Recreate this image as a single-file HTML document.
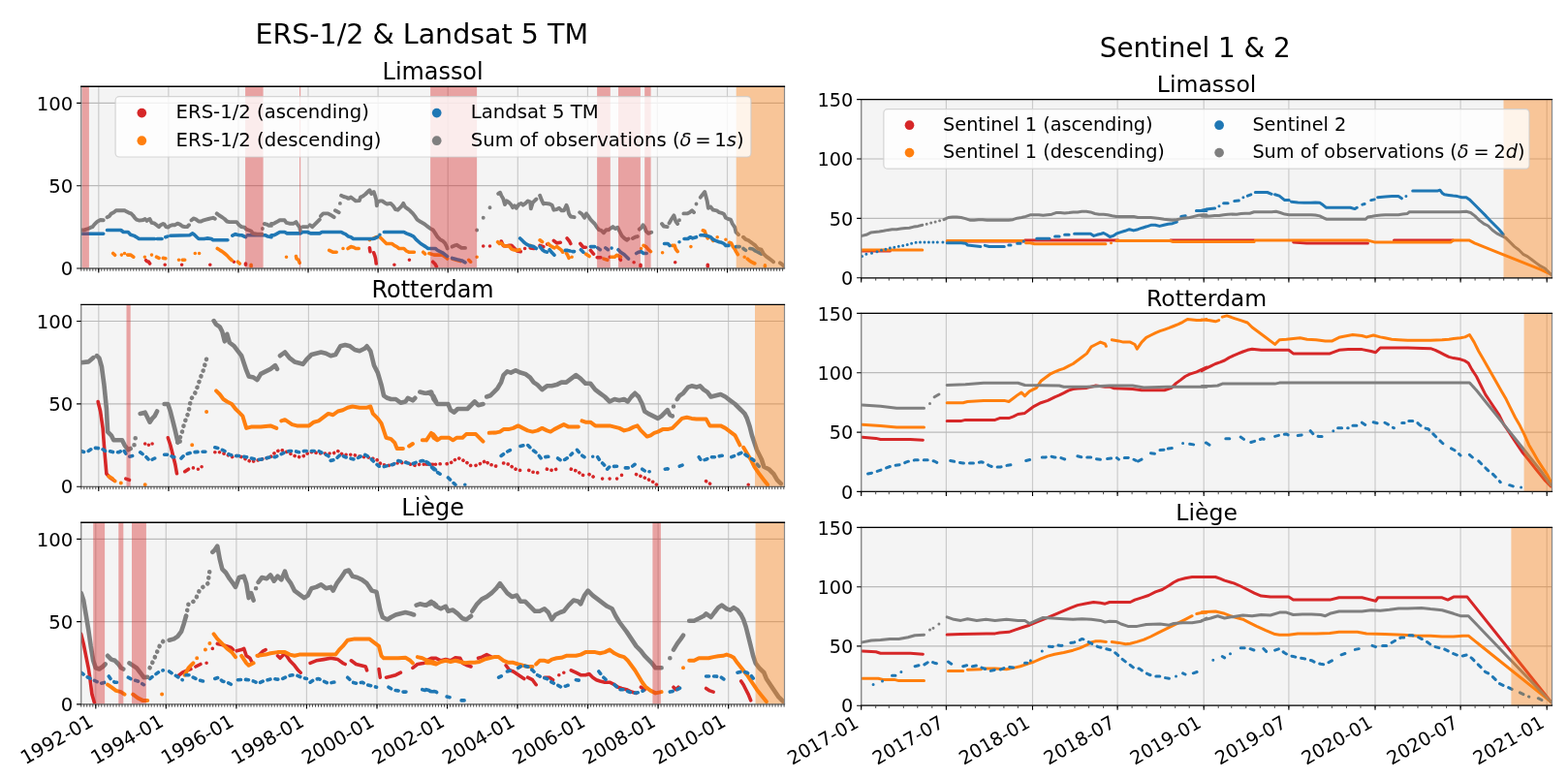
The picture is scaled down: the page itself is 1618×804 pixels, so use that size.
<!DOCTYPE html><html><head><meta charset="utf-8"><style>html,body{margin:0;padding:0;background:#fff;overflow:hidden;width:1618px;height:804px;}svg{display:block;}text{font-family:'DejaVu Sans', 'Liberation Sans', sans-serif;fill:#000;}</style></head><body>
<svg width="1618" height="804" viewBox="0 0 1618 804">
<rect width="1618" height="804" fill="#fff"/>
<text x="435.2" y="45.4" font-size="28.5" text-anchor="middle">ERS-1/2 &amp; Landsat 5 TM</text>
<text x="1233.3" y="59.4" font-size="27.8" text-anchor="middle">Sentinel 1 &amp; 2</text>
<clipPath id="clipL1"><rect x="83.7" y="89.3" width="725.8" height="187.7"/></clipPath>
<rect x="83.7" y="89.3" width="725.8" height="187.7" fill="#f4f4f4"/>
<path d="M101.8 89.3V277M173.9 89.3V277M246 89.3V277M318 89.3V277M390.1 89.3V277M462.2 89.3V277M534.3 89.3V277M606.4 89.3V277M678.4 89.3V277M750.5 89.3V277" stroke="#cbcbcb" stroke-width="1.2" fill="none"/>
<path d="M83.7 277H809.5M83.7 191.7H809.5M83.7 106.4H809.5" stroke="#bababa" stroke-width="1.2" fill="none"/>
<g clip-path="url(#clipL1)">
<path d="M150.6 268.6L151.5 269.6M153.4 270.2L154.6 272.0M170.2 273.3h0.01M187.6 273.3h0.01M216.8 273.3h0.01M241.4 270.2h0.01M253.5 272.0L253.5 273.3M381.4 255.9L382.0 259.6M385.7 260.8L387.0 264.6L387.6 267.1L388.2 272.0M406.9 273.3h0.01M422.4 268.3h0.01M446.7 270.2L449.2 272.7L450.4 275.1M498.7 254.0h0.01M505.5 254.0h0.01M517.3 249.0L519.2 253.4L521.7 254.0L524.8 253.4L527.9 253.4L529.8 255.2L533.5 259.0L537.2 259.6M541.6 256.5h0.01M547.2 255.9L550.9 256.5M557.1 253.4L560.8 254.6M564.6 252.1h0.01M571.4 248.4L574.5 250.9L578.3 250.3M585.1 245.9L587.6 249.0L588.8 251.5M598.8 251.5L601.9 255.2L604.4 255.2M609.4 258.4L612.5 262.1M616.2 265.8L619.9 265.8M629.3 265.2h0.01M639.8 267.1L640.4 268.3M654.1 270.8h0.01M661.0 273.3L661.0 275.1M696.7 270.8h0.01M730.3 273.3L730.3 275.1" stroke="#d62728" stroke-width="3.6" stroke-linecap="round" stroke-linejoin="round" fill="none"/>
<path d="M116.7 261.5L118.6 263.3M125.4 263.1h0.01M128.5 261.5h0.01M131.6 263.1L134.7 263.1L137.8 265.2M149.4 265.2h0.01M156.5 263.1h0.01M161.5 265.2L164.0 266.4M168.3 266.4L170.8 266.8M184.5 268.3h0.01M188.2 268.3L190.7 268.3M201.3 261.5h0.01M205.6 261.5h0.01M224.3 256.5L226.8 258.1L229.3 259.6L231.7 261.5L234.2 263.6L236.7 266.4L239.2 268.6M245.4 270.2L247.3 272.0M259.1 273.3L259.1 275.1M295.5 265.2h0.01M305.5 264.6L306.1 267.1L308.0 268.3L309.2 271.4M339.7 258.4L343.4 260.2L347.2 260.2M354.0 256.5h0.01M359.0 256.5L362.1 254.6L364.6 255.2L367.1 256.5L370.2 256.5M381.4 247.8h0.01M385.7 245.9L388.2 244.7L391.3 244.1L393.8 246.5L396.3 249.0L398.8 251.5L401.9 251.5L404.4 251.5L406.9 253.4L409.4 254.6L411.8 256.5L414.3 256.5L416.8 256.5L419.3 259.0L421.8 260.2L427.4 260.2M436.7 260.2L438.6 262.1M442.9 261.5L447.9 263.1L451.6 263.1L456.6 263.3L460.3 265.8L461.6 267.1M466.6 267.1L471.5 268.6L475.3 269.6M483.7 268.3L485.6 270.2M492.1 265.2h0.01M513.6 249.7L515.4 251.5L517.3 250.9L520.4 254.0L522.9 254.0L525.4 254.0L527.9 257.1L529.8 257.7L532.9 258.4L536.0 257.7M547.2 253.4L548.4 254.0M557.1 247.8L559.6 249.7M565.8 251.5L567.7 253.4L569.6 254.6L572.0 255.9M574.5 254.6L576.4 255.9L579.5 258.4L580.7 260.2M584.5 261.5L585.7 263.3L587.0 266.4M590.1 265.2h0.01M604.4 262.1L608.1 264.6M623.0 267.1L626.8 268.3M630.5 265.2L634.2 265.2L636.7 263.3L640.4 265.2M661.6 256.5h0.01M664.1 253.4L666.6 254.6L669.1 257.7L671.5 259.6M683.6 260.8h0.01M693.6 253.4L696.1 253.4L697.3 257.1L699.2 259.6M712.9 254.6h0.01M725.3 237.8L727.2 238.5L728.4 242.2L730.3 245.9M734.6 246.5L735.9 248.4M740.2 244.7h0.01M748.9 247.2h0.01M752.7 250.3L754.5 250.9L756.4 254.6L758.3 257.1L759.5 259.6L761.4 262.7M768.2 265.2h0.01M771.3 267.1L772.6 268.3L775.0 270.2L778.8 272.0M789.4 273.9L789.4 275.1" stroke="#ff7f0e" stroke-width="3.6" stroke-linecap="round" stroke-linejoin="round" fill="none"/>
<path d="M84.4 241.2L94.9 241.2L106.7 241.2M110.5 237.5L124.8 237.5L127.3 239.5L132.2 239.5L134.7 242.2L138.5 243.4L141.6 245.3L143.4 246.5L159.6 246.5M162.1 246.5L167.1 246.5M170.8 244.7L172.7 244.1M175.8 243.2L195.7 242.8L198.8 240.9L200.6 242.2L203.1 244.7L205.0 246.5L210.6 246.5L213.7 245.9L218.1 246.5L219.9 247.8L234.9 247.8M239.8 243.2L242.9 241.6L244.8 242.2L247.3 242.8L249.8 242.8L252.3 244.1L253.5 244.7M255.4 242.8L274.0 242.8L276.5 244.1L280.0 244.7M280.0 242.8L282.5 242.8L285.0 241.6L288.7 239.5L293.7 239.5L296.2 240.9L309.9 240.9L312.3 239.5L317.3 239.5L320.4 240.9L329.8 240.9L332.2 239.5L352.1 239.5L354.6 240.9L356.5 241.6L359.6 244.1L362.1 244.7L364.6 246.5L384.5 246.5L387.0 245.9L389.5 244.7M391.9 242.2h0.01M396.3 239.5L416.8 239.5L419.3 240.9L424.3 242.8L426.8 244.1L429.3 247.2L434.2 251.5L439.2 254.6L441.7 256.5L449.2 256.5L451.6 258.4L456.6 260.8L461.6 264.6M466.6 266.4L471.5 267.7L476.5 268.9L480.0 270.8M536.6 245.9L538.5 247.8L540.9 250.3L543.4 252.1L545.9 253.4L548.4 254.0L550.9 254.6L553.4 256.5M557.1 254.6L559.6 257.7L562.1 259.6L564.6 260.2M567.1 257.7L569.6 260.8L572.0 263.3M583.2 258.4L585.7 258.4L588.2 259.0M590.7 259.6L592.6 259.6M599.4 257.7L601.9 260.2M609.4 254.6L613.7 254.6M616.8 255.9L619.3 257.7M624.9 255.9L627.4 257.7M631.1 256.1h0.01M638.0 257.7L640.4 260.2L644.2 262.7L646.7 265.2L648.5 267.1M656.6 261.5L659.1 260.2L661.6 259.6L664.1 261.5L667.2 261.5M685.5 251.5L689.2 251.5L691.1 253.4M701.0 249.7h0.01M706.0 246.5L709.8 246.5L712.2 244.7L714.7 245.9L718.5 244.7M722.8 242.8L725.3 242.8L729.7 243.4L733.4 244.7L735.9 247.2L738.4 248.4L742.1 249.7L744.6 250.3L747.1 251.5L748.9 253.4L752.0 253.4M759.5 254.6L763.2 254.6M767.0 256.5L769.5 258.4M773.8 256.5L776.9 257.1L779.4 259.0L781.9 260.2L785.6 262.1" stroke="#1f77b4" stroke-width="3.6" stroke-linecap="round" stroke-linejoin="round" fill="none"/>
<path d="M84.4 237.5L87.5 237.2L91.2 236.0L93.7 234.7L95.5 234.1L97.4 231.6L99.9 229.1L101.8 227.9L103.6 227.0L106.7 227.3M110.5 224.2L113.0 222.9L114.8 220.4L117.3 219.2L119.8 217.3L122.9 217.1L126.0 217.3L128.5 217.1L130.4 218.3L132.9 219.6L135.3 220.4L137.2 222.3L139.1 224.8L140.9 226.6L143.4 227.5L145.9 227.3L147.8 227.0L149.7 226.0L151.5 227.9L153.4 226.6L154.6 226.0L156.5 229.8L159.0 230.4L161.5 232.2L164.0 234.1L165.8 232.2L168.3 231.0L169.6 231.6L171.4 234.1L173.3 234.5L175.8 232.9L178.3 232.2L180.7 232.2L183.2 230.7L185.7 231.6L188.2 233.5L190.7 234.1L193.2 234.1L195.0 232.2M197.5 227.3L200.0 225.4L202.5 226.6L205.0 228.5L207.5 228.5L210.0 227.3L212.5 226.6L215.0 226.0L217.4 225.4L219.9 224.8L221.8 225.8M223.7 220.4L226.1 222.3L229.3 224.2L231.7 226.0L234.2 228.5L236.7 229.1L240.4 229.1L244.2 229.1L246.7 232.2L249.2 234.1L252.3 234.7L254.1 236.6L256.6 237.5L259.1 238.5L261.0 240.9L265.3 241.6L270.3 241.6M270.9 236.0h0.01M272.8 231.0L275.3 231.6L277.8 232.9L280.0 232.9M280.0 231.0L282.5 230.7L285.6 229.1L288.7 227.3L293.7 227.3L295.5 229.8L298.7 230.7L303.0 230.7L305.5 229.1L307.4 232.2L309.2 234.7L309.9 237.8M312.3 234.1L317.3 234.1M319.8 232.2L322.3 234.1L324.8 231.6L327.3 229.1L329.8 226.6M331.0 222.9L333.5 220.4L338.5 220.4L340.9 221.7L342.8 222.9L344.7 224.2M345.9 217.3L348.4 218.6L349.7 219.2M350.9 209.9h0.01M352.1 201.8L354.6 203.0L357.1 203.6L359.6 204.9L362.1 203.6L364.6 205.5L367.1 207.4L370.8 207.1L372.0 203.6L374.5 202.4L377.0 200.5L379.5 198.0L381.4 196.2L383.2 199.9L385.7 198.0L387.0 201.8L388.2 206.1L388.8 212.3L389.5 208.6L391.9 207.4L394.4 207.4L396.9 209.2L399.4 210.5L403.1 209.9L405.6 212.3L408.1 216.1L410.6 216.7L413.1 214.2L414.3 213.0L416.2 209.9L418.1 213.6L420.5 215.4L423.0 217.3L425.5 219.8L428.0 222.9L430.5 226.6L434.2 229.1L436.7 230.4L439.2 232.2L441.7 234.1L444.2 236.0L446.7 237.2L449.2 240.9L451.6 244.7L454.1 247.2L456.6 248.4L459.1 250.9L461.0 254.6L461.6 256.5M466.6 254.6L469.1 253.4L471.5 252.8L474.0 254.6L476.5 255.9L480.0 255.9M492.1 237.5h0.01M498.7 224.8h0.01M505.5 214.2h0.01M514.2 199.9L516.1 198.7L517.3 201.8L519.2 204.9L521.0 211.1L522.9 207.4L525.4 209.2L527.3 211.1L529.1 214.2L531.0 212.3L532.9 214.8L535.3 211.1L537.8 209.9L539.7 211.7L542.2 209.9L544.7 207.4L547.2 208.6L547.8 215.4L549.7 209.2L551.5 207.4L553.4 205.5M557.1 201.8L559.0 206.7L560.8 210.5L562.7 209.9L567.1 210.5L569.6 211.7L571.4 216.7L574.5 216.1L577.0 214.8L579.5 217.3L582.0 217.3L584.5 211.7L585.7 214.8L587.0 220.4L588.8 223.5L592.6 224.2M598.2 219.2L600.6 221.0L603.1 224.8L605.0 220.4L606.9 222.9L609.4 226.6L611.8 229.1L613.7 231.0L615.6 234.1L618.1 237.2L620.5 237.8L623.0 240.3L625.5 237.2L628.0 237.2L630.5 235.3L632.4 234.1L634.9 236.0L637.3 234.7L639.2 238.5L641.7 243.4L644.2 245.9L646.7 247.8L648.5 246.5M652.9 245.9L655.4 244.7L657.9 244.1M659.7 236.6L662.2 234.7L663.5 232.2L665.3 234.7L666.6 238.5L669.1 240.9L672.2 239.7M683.0 231.0L684.9 233.5L688.6 234.1M690.5 230.4L693.0 226.0L695.4 222.3L697.3 228.5L699.2 231.0M701.0 227.3h0.01M705.4 220.4L709.1 220.4L711.6 219.2L714.1 217.3L716.0 219.2M718.5 210.5h0.01M722.8 203.6L724.7 201.1L727.2 198.0L728.4 202.4L729.7 207.4L730.9 214.8L733.4 213.6L735.9 216.7L739.6 217.3L742.1 219.2L744.6 219.8L747.1 221.0L748.9 224.8L751.4 226.0L753.9 226.6L755.8 231.0L758.3 234.7L759.5 239.7L762.0 242.2M767.0 244.7L769.5 247.2L771.9 247.8L774.4 249.7L776.9 251.5L779.4 253.4L781.9 256.5L785.6 257.7L788.1 262.1L790.6 264.6L793.1 266.4L795.6 268.3L798.1 270.2M804.9 271.4L806.8 272.7L809.3 275.1" stroke="#7f7f7f" stroke-width="3.9" stroke-linecap="round" stroke-linejoin="round" fill="none"/>
</g>
<rect x="84.6" y="89.3" width="7.3" height="187.7" fill="#d62728" fill-opacity="0.4"/>
<rect x="253.1" y="89.3" width="18.5" height="187.7" fill="#d62728" fill-opacity="0.4"/>
<rect x="309" y="89.3" width="1.2" height="187.7" fill="#d62728" fill-opacity="0.4"/>
<rect x="444.1" y="89.3" width="48" height="187.7" fill="#d62728" fill-opacity="0.4"/>
<rect x="616.1" y="89.3" width="13.7" height="187.7" fill="#d62728" fill-opacity="0.4"/>
<rect x="638" y="89.3" width="22.9" height="187.7" fill="#d62728" fill-opacity="0.4"/>
<rect x="665.2" y="89.3" width="6.4" height="187.7" fill="#d62728" fill-opacity="0.4"/>
<rect x="759.7" y="89.3" width="49.8" height="187.7" fill="#ff7f0e" fill-opacity="0.4"/>
<path d="M83.7 89.3V277" stroke="#8a8a8a" stroke-width="1.4" fill="none"/>
<path d="M809.5 89.3V277" stroke="#8a8a8a" stroke-width="1.2" fill="none"/>
<path d="M83.1 277H810.1" stroke="#6a6a6a" stroke-width="1.3" fill="none"/>
<path d="M83.1 89.3H810.1" stroke="#000" stroke-width="1.4" fill="none"/>
<path d="M83.8 277v2.8M86.8 277v2.8M89.8 277v2.8M92.8 277v2.8M95.8 277v2.8M98.8 277v2.8M101.8 277v2.8M104.8 277v2.8M107.8 277v2.8M110.8 277v2.8M113.8 277v2.8M116.8 277v2.8M119.8 277v2.8M122.8 277v2.8M125.8 277v2.8M128.8 277v2.8M131.8 277v2.8M134.8 277v2.8M137.8 277v2.8M140.8 277v2.8M143.8 277v2.8M146.8 277v2.8M149.9 277v2.8M152.9 277v2.8M155.9 277v2.8M158.9 277v2.8M161.9 277v2.8M164.9 277v2.8M167.9 277v2.8M170.9 277v2.8M173.9 277v2.8M176.9 277v2.8M179.9 277v2.8M182.9 277v2.8M185.9 277v2.8M188.9 277v2.8M191.9 277v2.8M194.9 277v2.8M197.9 277v2.8M200.9 277v2.8M203.9 277v2.8M206.9 277v2.8M209.9 277v2.8M212.9 277v2.8M215.9 277v2.8M218.9 277v2.8M221.9 277v2.8M224.9 277v2.8M227.9 277v2.8M230.9 277v2.8M233.9 277v2.8M236.9 277v2.8M240 277v2.8M243 277v2.8M246 277v2.8M249 277v2.8M252 277v2.8M255 277v2.8M258 277v2.8M261 277v2.8M264 277v2.8M267 277v2.8M270 277v2.8M273 277v2.8M276 277v2.8M279 277v2.8M282 277v2.8M285 277v2.8M288 277v2.8M291 277v2.8M294 277v2.8M297 277v2.8M300 277v2.8M303 277v2.8M306 277v2.8M309 277v2.8M312 277v2.8M315 277v2.8M318 277v2.8M321 277v2.8M324 277v2.8M327.1 277v2.8M330.1 277v2.8M333.1 277v2.8M336.1 277v2.8M339.1 277v2.8M342.1 277v2.8M345.1 277v2.8M348.1 277v2.8M351.1 277v2.8M354.1 277v2.8M357.1 277v2.8M360.1 277v2.8M363.1 277v2.8M366.1 277v2.8M369.1 277v2.8M372.1 277v2.8M375.1 277v2.8M378.1 277v2.8M381.1 277v2.8M384.1 277v2.8M387.1 277v2.8M390.1 277v2.8M393.1 277v2.8M396.1 277v2.8M399.1 277v2.8M402.1 277v2.8M405.1 277v2.8M408.1 277v2.8M411.1 277v2.8M414.1 277v2.8M417.1 277v2.8M420.2 277v2.8M423.2 277v2.8M426.2 277v2.8M429.2 277v2.8M432.2 277v2.8M435.2 277v2.8M438.2 277v2.8M441.2 277v2.8M444.2 277v2.8M447.2 277v2.8M450.2 277v2.8M453.2 277v2.8M456.2 277v2.8M459.2 277v2.8M462.2 277v2.8M465.2 277v2.8M468.2 277v2.8M471.2 277v2.8M474.2 277v2.8M477.2 277v2.8M480.2 277v2.8M483.2 277v2.8M486.2 277v2.8M489.2 277v2.8M492.2 277v2.8M495.2 277v2.8M498.2 277v2.8M501.2 277v2.8M504.2 277v2.8M507.2 277v2.8M510.3 277v2.8M513.3 277v2.8M516.3 277v2.8M519.3 277v2.8M522.3 277v2.8M525.3 277v2.8M528.3 277v2.8M531.3 277v2.8M534.3 277v2.8M537.3 277v2.8M540.3 277v2.8M543.3 277v2.8M546.3 277v2.8M549.3 277v2.8M552.3 277v2.8M555.3 277v2.8M558.3 277v2.8M561.3 277v2.8M564.3 277v2.8M567.3 277v2.8M570.3 277v2.8M573.3 277v2.8M576.3 277v2.8M579.3 277v2.8M582.3 277v2.8M585.3 277v2.8M588.3 277v2.8M591.3 277v2.8M594.3 277v2.8M597.4 277v2.8M600.4 277v2.8M603.4 277v2.8M606.4 277v2.8M609.4 277v2.8M612.4 277v2.8M615.4 277v2.8M618.4 277v2.8M621.4 277v2.8M624.4 277v2.8M627.4 277v2.8M630.4 277v2.8M633.4 277v2.8M636.4 277v2.8M639.4 277v2.8M642.4 277v2.8M645.4 277v2.8M648.4 277v2.8M651.4 277v2.8M654.4 277v2.8M657.4 277v2.8M660.4 277v2.8M663.4 277v2.8M666.4 277v2.8M669.4 277v2.8M672.4 277v2.8M675.4 277v2.8M678.4 277v2.8M681.4 277v2.8M684.4 277v2.8M687.4 277v2.8M690.5 277v2.8M693.5 277v2.8M696.5 277v2.8M699.5 277v2.8M702.5 277v2.8M705.5 277v2.8M708.5 277v2.8M711.5 277v2.8M714.5 277v2.8M717.5 277v2.8M720.5 277v2.8M723.5 277v2.8M726.5 277v2.8M729.5 277v2.8M732.5 277v2.8M735.5 277v2.8M738.5 277v2.8M741.5 277v2.8M744.5 277v2.8M747.5 277v2.8M750.5 277v2.8M753.5 277v2.8M756.5 277v2.8M759.5 277v2.8M762.5 277v2.8M765.5 277v2.8M768.5 277v2.8M771.5 277v2.8M774.5 277v2.8M777.5 277v2.8M780.6 277v2.8M783.6 277v2.8M786.6 277v2.8M789.6 277v2.8M792.6 277v2.8M795.6 277v2.8M798.6 277v2.8M801.6 277v2.8M804.6 277v2.8M807.6 277v2.8" stroke="#333" stroke-width="0.9" fill="none"/>
<path d="M101.8 277v4.6M173.9 277v4.6M246 277v4.6M318 277v4.6M390.1 277v4.6M462.2 277v4.6M534.3 277v4.6M606.4 277v4.6M678.4 277v4.6M750.5 277v4.6M83.7 277h-4.6M83.7 191.7h-4.6M83.7 106.4h-4.6" stroke="#000" stroke-width="1.1" fill="none"/>
<text x="75.3" y="284.1" font-size="19.7" text-anchor="end">0</text>
<text x="75.3" y="198.8" font-size="19.7" text-anchor="end">50</text>
<text x="75.3" y="113.5" font-size="19.7" text-anchor="end">100</text>
<text x="446.6" y="81.6" font-size="23.9" text-anchor="middle">Limassol</text>
<clipPath id="clipL2"><rect x="83.7" y="314.4" width="725.8" height="187.9"/></clipPath>
<rect x="83.7" y="314.4" width="725.8" height="187.9" fill="#f4f4f4"/>
<path d="M101.8 314.4V502.3M174 314.4V502.3M246.2 314.4V502.3M318.4 314.4V502.3M390.6 314.4V502.3M462.8 314.4V502.3M535 314.4V502.3M607.2 314.4V502.3M679.4 314.4V502.3M751.6 314.4V502.3" stroke="#cbcbcb" stroke-width="1.2" fill="none"/>
<path d="M83.7 502.3H809.5M83.7 416.9H809.5M83.7 331.5H809.5" stroke="#bababa" stroke-width="1.2" fill="none"/>
<g clip-path="url(#clipL2)">
<path d="M101.1 414.5L103.6 424.5L106.1 441.9L107.4 459.3L108.6 474.2L109.9 489.1L113.6 492.9L117.3 495.4M129.8 494.1L133.5 495.4M149.7 458.0h0.01M153.4 459.3h0.01M157.1 458.0h0.01M173.3 451.8L175.8 459.3L178.3 469.2L180.8 479.2L182.5 488.7M190.7 486.7L194.5 484.2M199.4 482.9h0.01M204.4 484.2h0.01M208.1 481.7h0.01" stroke="#d62728" stroke-width="3.6" stroke-linecap="round" stroke-linejoin="round" fill="none"/>
<path d="M221.8 466.8L226.8 466.8L234.3 469.2L239.2 471.7L244.2 470.5L249.2 471.7L254.2 474.2L259.1 476.7L264.1 475.5L269.1 474.2L274.1 473.0L279.1 471.7L284.0 466.8L289.0 464.3L294.0 465.5L299.0 468.0L303.9 470.5L308.9 471.7L313.9 470.5L318.9 466.8L323.8 466.8L328.8 468.0L333.8 468.0L338.8 468.0L343.7 468.0L348.7 465.5L353.7 469.2L358.7 469.2L363.7 469.2L368.6 470.5L373.6 471.7L378.6 471.7L383.6 473.0L388.5 474.2L393.5 479.2L398.5 480.4L403.5 480.4L408.4 478.0L413.4 478.0L418.4 476.7L423.4 479.2L428.3 480.4L433.3 479.2L438.3 479.2L443.3 479.2L450.0 479.2M440.0 479.2L445.0 479.2L450.0 479.2L454.9 478.7M461.1 478.7L466.1 477.2L469.9 474.2L473.6 473.0L477.3 474.7L481.1 477.2L484.8 479.2L487.3 482.9M491.0 480.4L497.2 478.0L501.0 475.5L504.7 479.2L509.7 480.4L513.4 481.7M519.6 478.0L524.6 479.2L528.3 481.7L532.1 484.2L535.8 485.4L539.5 485.4M545.7 485.4L549.5 487.2L554.5 487.9L558.2 487.9M564.4 484.2L569.4 485.4L574.4 484.2L578.1 484.2M589.3 484.2L593.0 485.4L596.8 486.7L599.2 489.6L601.7 490.4M608.0 489.6L611.7 491.6L614.2 494.1M621.6 494.1h0.01M629.1 494.1h0.01M636.6 494.1h0.01M641.5 490.4h0.01M656.5 489.6L661.4 491.6L667.7 494.1L672.6 496.6L676.4 499.1L678.9 501.6M728.6 496.6L732.4 499.1L736.1 501.1M772.2 500.3h0.01" stroke="#d62728" stroke-width="3.6" stroke-linecap="round" stroke-linejoin="round" fill="none" stroke-dasharray="0.1 4.6"/>
<path d="M112.3 491.6L116.1 494.1M118.6 496.6h0.01M124.8 498.6h0.01M149.7 500.3h0.01M198.2 459.3h0.01M213.1 425.0h0.01M223.1 403.3L226.8 407.0L230.5 412.0L234.3 414.5L239.2 417.0L243.0 422.0L246.7 425.7L250.4 429.4L254.2 441.9L259.1 440.6L269.1 440.6L279.1 439.4L285.3 441.9M290.3 434.4L294.0 433.2L297.7 435.7L301.4 438.1L306.4 439.4L313.9 439.4L318.9 439.4L323.8 435.7L328.8 434.4L333.8 430.7L338.8 426.9L343.7 428.2L348.7 424.5L353.7 423.2L358.7 420.7L363.7 419.5L371.1 420.7L378.6 420.7L382.3 419.5L384.8 426.9L389.8 431.9L393.5 436.9L396.0 444.4L398.5 451.8L403.5 453.1L407.2 456.8L409.7 463.0L415.9 463.0M422.1 460.5L425.9 458.0M435.8 454.3L439.5 454.3M447.0 448.1L450.0 451.8M440.0 454.3L445.0 446.8L447.5 451.8L451.2 454.3L454.9 451.8L463.6 451.8L467.4 454.3L471.1 451.8L477.3 451.8L481.1 448.1L491.0 448.1L494.7 451.8L498.5 455.6M504.7 446.8L512.2 446.4L515.9 445.6L519.6 443.1L524.6 443.1L529.6 441.9L534.6 439.4L539.5 441.9L544.5 444.4L549.5 445.6L554.5 444.4L559.4 441.9L564.4 444.4L568.1 445.6L571.9 443.1L576.8 440.6L581.8 438.1L586.8 440.6L594.3 440.6L596.8 440.6M600.5 434.4L604.2 435.7L609.2 435.7L614.2 439.4L619.1 439.4L629.1 439.4L634.1 440.6L639.1 441.9L644.0 444.4L649.0 443.1L654.0 440.6L657.7 439.4L661.4 444.4L665.2 448.1L667.7 450.6L671.4 449.3L675.1 446.8L678.9 445.6L683.8 443.1L688.8 443.1L693.8 441.9L698.8 436.9L703.7 431.9L708.7 430.7L713.7 431.9L718.7 432.4L728.6 432.4L732.4 439.4L738.6 439.4L743.6 439.4L748.5 441.9L753.5 445.6L758.5 449.3L761.0 454.3L763.5 459.3M767.2 461.8L770.9 468.0L774.7 474.2L778.4 481.7L783.4 489.1L788.3 495.4L792.1 500.3" stroke="#ff7f0e" stroke-width="4.0" stroke-linecap="round" stroke-linejoin="round" fill="none"/>
<path d="M83.7 465.5L87.5 466.8L91.2 465.5L94.9 463.0L98.7 462.3L104.9 463.0L108.6 465.5L112.3 465.5L117.3 466.8L122.3 466.8L127.3 464.3L129.8 468.0L133.5 471.2L137.2 470.5L141.0 469.2M144.7 466.8L149.7 470.5L154.6 475.5L159.6 473.0L163.4 473.0M169.6 469.2L174.6 469.2L178.3 471.7L182.0 471.7M187.0 473.0L190.7 469.2L194.5 468.0L199.4 466.8L204.4 466.3L209.4 466.3L211.9 466.3M221.8 461.8L226.8 463.0L231.8 465.5L236.8 469.2L241.7 470.5L246.7 470.5L254.2 471.7L259.1 473.0L264.1 474.2L269.1 474.2L274.1 473.0L279.1 471.7L284.0 471.7L289.0 469.2L294.0 466.8L299.0 465.5L303.9 465.5L308.9 466.8L313.9 465.5L318.9 465.5L323.8 465.5L328.8 465.5L333.8 468.0L338.8 470.5L341.3 475.5L346.2 474.2L351.2 469.2L356.2 471.7L361.2 473.0L366.1 474.2L371.1 471.7L376.1 469.2L381.1 471.7L386.0 476.7L391.0 481.2L396.0 481.7L401.0 480.4L406.0 479.2L410.9 475.5L415.9 476.7L420.9 478.0L425.9 478.7L430.8 476.7L435.8 475.5L440.8 476.7L445.8 481.7L450.0 485.4M440.0 476.7L445.0 481.7L450.0 486.7L456.2 490.4M462.4 492.9L467.4 497.9L469.9 500.3M479.8 500.3h0.01M517.1 470.5L522.1 466.8L527.1 464.3M537.0 460.5L542.0 459.3L544.5 459.3L549.5 464.3L554.5 468.0L558.2 473.0L561.9 471.7L566.9 471.2L570.6 471.7M575.6 473.0L579.3 475.5L583.1 474.2L586.8 471.7L590.5 468.0M595.5 464.3L599.2 469.2L603.0 471.7M611.7 471.2h0.01M616.7 471.7L619.1 475.5L622.9 479.2L626.6 484.2L629.1 481.7L636.6 481.2M645.3 482.9L650.3 482.9L655.2 479.2L659.0 480.4M662.7 484.2L666.4 486.7L670.2 486.7M686.3 484.2L688.8 483.7L692.6 486.7M701.3 481.2L706.2 479.2M721.2 471.7L723.7 475.5L728.6 474.2L733.6 471.7L738.6 471.7L743.6 470.5L748.5 469.7M754.8 471.7L761.0 469.2L766.0 466.8L770.9 470.5L774.7 473.0L778.4 475.5L783.4 481.7" stroke="#1f77b4" stroke-width="3.6" stroke-linecap="round" stroke-linejoin="round" fill="none" stroke-dasharray="3 5"/>
<path d="M83.7 374.2L91.2 373.4L96.2 369.2M99.9 367.2L102.4 369.7L104.9 378.4L107.4 397.1L109.9 422.0L111.1 445.6L114.8 449.3L117.3 454.3L121.1 454.3L126.0 454.3L128.5 459.3L132.3 464.3L134.7 463.0M138.5 459.3h0.01M139.7 452.3h0.01M144.7 426.9L149.7 425.7L154.6 435.7L157.1 431.9L159.6 429.4L162.1 424.5M169.6 417.0L173.3 417.0L175.8 424.5L178.3 434.4L180.8 444.4L183.3 455.6L185.7 455.6M220.6 331.1L223.1 334.9L226.8 337.4L229.3 342.3L231.8 352.3L234.3 344.8L236.8 353.5L241.7 357.3L245.5 362.3L249.2 367.2L251.7 374.7L254.2 382.2L256.7 388.4L261.6 389.6L265.4 392.1L269.1 385.9L274.1 383.4L279.1 380.9L284.0 377.2L286.0 380.9M289.0 367.2L294.0 363.5L299.0 369.7L303.9 373.4L308.9 374.7L312.6 375.9L316.4 371.0L321.4 366.0L326.3 364.7L331.3 363.5L336.3 364.7L341.3 367.2L346.2 366.0L351.2 357.3L356.2 356.0L361.2 357.3L366.1 361.0L371.1 362.3L376.1 359.8L378.6 357.3L382.3 362.3L386.0 377.2L389.8 384.6L393.5 397.1L396.0 408.3L399.7 410.8L403.5 412.0L408.4 412.0L413.4 415.7L418.4 414.5L420.9 410.8L425.9 413.3L428.3 410.8M433.3 404.6L438.3 405.8L443.3 405.8L447.0 408.3L450.0 414.5M440.0 405.8L445.0 404.6L447.5 412.0L451.2 417.0L462.4 417.0L464.9 423.2L468.6 425.7L472.3 422.0L482.3 422.0L484.8 419.5L489.8 414.5L493.5 418.2L498.5 417.0M502.2 409.5L505.9 408.3L509.7 404.6L513.4 400.8L517.1 394.6L519.6 387.1L523.4 383.4L527.1 384.6L532.1 382.2L537.0 384.6L542.0 385.9L547.0 389.6L550.7 394.6L554.5 397.1L559.4 402.1L564.4 398.3L569.4 398.3L574.4 397.1L579.3 394.6L584.3 394.6L589.3 390.9L594.3 387.1L599.2 390.9L604.2 395.8L609.2 395.8L614.2 402.1L619.1 405.8L624.1 409.5L629.1 414.5L634.1 412.0L639.1 413.3L644.0 412.0L647.8 414.5L651.5 409.5L655.2 405.8L659.0 409.5L662.7 417.0L665.2 424.5L668.9 426.9L673.9 429.4L678.9 431.9L682.6 429.4L686.3 425.7L688.8 423.2L691.3 428.2L693.8 429.4M695.0 419.5h0.01M698.8 412.0L701.3 408.3L705.0 405.8L710.0 399.6L713.7 398.3L718.7 399.6L722.4 398.3L726.1 402.1L729.9 404.6L733.6 409.5L738.6 408.3L743.6 407.0L748.5 409.5L753.5 413.3L758.5 417.0L763.5 422.0L768.4 426.9L770.9 431.9L773.4 439.4L775.9 449.3L778.4 456.8L780.9 464.3L783.4 469.2L785.9 474.2L788.3 481.7L793.3 484.2L798.3 489.1L802.0 495.4L805.8 499.1" stroke="#7f7f7f" stroke-width="4.6" stroke-linecap="round" stroke-linejoin="round" fill="none"/>
<path d="M183.3 456.8L187.0 449.3L189.5 439.4L192.0 431.9L194.5 425.7L196.9 412.0L198.9 409.5L201.9 404.6L204.4 397.1L206.9 389.6L209.4 383.4L213.1 370.5" stroke="#7f7f7f" stroke-width="4.6" stroke-linecap="round" stroke-linejoin="round" fill="none" stroke-dasharray="0.1 6"/>
</g>
<rect x="130.5" y="314.4" width="4.2" height="187.9" fill="#d62728" fill-opacity="0.4"/>
<rect x="779" y="314.4" width="30.5" height="187.9" fill="#ff7f0e" fill-opacity="0.4"/>
<path d="M83.7 314.4V502.3" stroke="#8a8a8a" stroke-width="1.4" fill="none"/>
<path d="M809.5 314.4V502.3" stroke="#8a8a8a" stroke-width="1.2" fill="none"/>
<path d="M83.1 502.3H810.1" stroke="#6a6a6a" stroke-width="1.3" fill="none"/>
<path d="M83.1 314.4H810.1" stroke="#000" stroke-width="1.4" fill="none"/>
<path d="M83.8 502.3v2.8M86.8 502.3v2.8M89.8 502.3v2.8M92.8 502.3v2.8M95.8 502.3v2.8M98.8 502.3v2.8M101.8 502.3v2.8M104.8 502.3v2.8M107.8 502.3v2.8M110.8 502.3v2.8M113.8 502.3v2.8M116.8 502.3v2.8M119.8 502.3v2.8M122.9 502.3v2.8M125.9 502.3v2.8M128.9 502.3v2.8M131.9 502.3v2.8M134.9 502.3v2.8M137.9 502.3v2.8M140.9 502.3v2.8M143.9 502.3v2.8M146.9 502.3v2.8M149.9 502.3v2.8M152.9 502.3v2.8M155.9 502.3v2.8M159 502.3v2.8M162 502.3v2.8M165 502.3v2.8M168 502.3v2.8M171 502.3v2.8M174 502.3v2.8M177 502.3v2.8M180 502.3v2.8M183 502.3v2.8M186 502.3v2.8M189 502.3v2.8M192.1 502.3v2.8M195.1 502.3v2.8M198.1 502.3v2.8M201.1 502.3v2.8M204.1 502.3v2.8M207.1 502.3v2.8M210.1 502.3v2.8M213.1 502.3v2.8M216.1 502.3v2.8M219.1 502.3v2.8M222.1 502.3v2.8M225.1 502.3v2.8M228.2 502.3v2.8M231.2 502.3v2.8M234.2 502.3v2.8M237.2 502.3v2.8M240.2 502.3v2.8M243.2 502.3v2.8M246.2 502.3v2.8M249.2 502.3v2.8M252.2 502.3v2.8M255.2 502.3v2.8M258.2 502.3v2.8M261.2 502.3v2.8M264.2 502.3v2.8M267.3 502.3v2.8M270.3 502.3v2.8M273.3 502.3v2.8M276.3 502.3v2.8M279.3 502.3v2.8M282.3 502.3v2.8M285.3 502.3v2.8M288.3 502.3v2.8M291.3 502.3v2.8M294.3 502.3v2.8M297.3 502.3v2.8M300.4 502.3v2.8M303.4 502.3v2.8M306.4 502.3v2.8M309.4 502.3v2.8M312.4 502.3v2.8M315.4 502.3v2.8M318.4 502.3v2.8M321.4 502.3v2.8M324.4 502.3v2.8M327.4 502.3v2.8M330.4 502.3v2.8M333.4 502.3v2.8M336.4 502.3v2.8M339.5 502.3v2.8M342.5 502.3v2.8M345.5 502.3v2.8M348.5 502.3v2.8M351.5 502.3v2.8M354.5 502.3v2.8M357.5 502.3v2.8M360.5 502.3v2.8M363.5 502.3v2.8M366.5 502.3v2.8M369.5 502.3v2.8M372.6 502.3v2.8M375.6 502.3v2.8M378.6 502.3v2.8M381.6 502.3v2.8M384.6 502.3v2.8M387.6 502.3v2.8M390.6 502.3v2.8M393.6 502.3v2.8M396.6 502.3v2.8M399.6 502.3v2.8M402.6 502.3v2.8M405.6 502.3v2.8M408.7 502.3v2.8M411.7 502.3v2.8M414.7 502.3v2.8M417.7 502.3v2.8M420.7 502.3v2.8M423.7 502.3v2.8M426.7 502.3v2.8M429.7 502.3v2.8M432.7 502.3v2.8M435.7 502.3v2.8M438.7 502.3v2.8M441.7 502.3v2.8M444.8 502.3v2.8M447.8 502.3v2.8M450.8 502.3v2.8M453.8 502.3v2.8M456.8 502.3v2.8M459.8 502.3v2.8M462.8 502.3v2.8M465.8 502.3v2.8M468.8 502.3v2.8M471.8 502.3v2.8M474.8 502.3v2.8M477.8 502.3v2.8M480.9 502.3v2.8M483.9 502.3v2.8M486.9 502.3v2.8M489.9 502.3v2.8M492.9 502.3v2.8M495.9 502.3v2.8M498.9 502.3v2.8M501.9 502.3v2.8M504.9 502.3v2.8M507.9 502.3v2.8M510.9 502.3v2.8M513.9 502.3v2.8M517 502.3v2.8M520 502.3v2.8M523 502.3v2.8M526 502.3v2.8M529 502.3v2.8M532 502.3v2.8M535 502.3v2.8M538 502.3v2.8M541 502.3v2.8M544 502.3v2.8M547 502.3v2.8M550 502.3v2.8M553 502.3v2.8M556.1 502.3v2.8M559.1 502.3v2.8M562.1 502.3v2.8M565.1 502.3v2.8M568.1 502.3v2.8M571.1 502.3v2.8M574.1 502.3v2.8M577.1 502.3v2.8M580.1 502.3v2.8M583.1 502.3v2.8M586.1 502.3v2.8M589.1 502.3v2.8M592.2 502.3v2.8M595.2 502.3v2.8M598.2 502.3v2.8M601.2 502.3v2.8M604.2 502.3v2.8M607.2 502.3v2.8M610.2 502.3v2.8M613.2 502.3v2.8M616.2 502.3v2.8M619.2 502.3v2.8M622.2 502.3v2.8M625.2 502.3v2.8M628.3 502.3v2.8M631.3 502.3v2.8M634.3 502.3v2.8M637.3 502.3v2.8M640.3 502.3v2.8M643.3 502.3v2.8M646.3 502.3v2.8M649.3 502.3v2.8M652.3 502.3v2.8M655.3 502.3v2.8M658.3 502.3v2.8M661.4 502.3v2.8M664.4 502.3v2.8M667.4 502.3v2.8M670.4 502.3v2.8M673.4 502.3v2.8M676.4 502.3v2.8M679.4 502.3v2.8M682.4 502.3v2.8M685.4 502.3v2.8M688.4 502.3v2.8M691.4 502.3v2.8M694.4 502.3v2.8M697.4 502.3v2.8M700.5 502.3v2.8M703.5 502.3v2.8M706.5 502.3v2.8M709.5 502.3v2.8M712.5 502.3v2.8M715.5 502.3v2.8M718.5 502.3v2.8M721.5 502.3v2.8M724.5 502.3v2.8M727.5 502.3v2.8M730.5 502.3v2.8M733.5 502.3v2.8M736.6 502.3v2.8M739.6 502.3v2.8M742.6 502.3v2.8M745.6 502.3v2.8M748.6 502.3v2.8M751.6 502.3v2.8M754.6 502.3v2.8M757.6 502.3v2.8M760.6 502.3v2.8M763.6 502.3v2.8M766.6 502.3v2.8M769.6 502.3v2.8M772.7 502.3v2.8M775.7 502.3v2.8M778.7 502.3v2.8M781.7 502.3v2.8M784.7 502.3v2.8M787.7 502.3v2.8M790.7 502.3v2.8M793.7 502.3v2.8M796.7 502.3v2.8M799.7 502.3v2.8M802.7 502.3v2.8M805.8 502.3v2.8M808.8 502.3v2.8" stroke="#333" stroke-width="0.9" fill="none"/>
<path d="M101.8 502.3v4.6M174 502.3v4.6M246.2 502.3v4.6M318.4 502.3v4.6M390.6 502.3v4.6M462.8 502.3v4.6M535 502.3v4.6M607.2 502.3v4.6M679.4 502.3v4.6M751.6 502.3v4.6M83.7 502.3h-4.6M83.7 416.9h-4.6M83.7 331.5h-4.6" stroke="#000" stroke-width="1.1" fill="none"/>
<text x="75.3" y="509.4" font-size="19.7" text-anchor="end">0</text>
<text x="75.3" y="424" font-size="19.7" text-anchor="end">50</text>
<text x="75.3" y="338.6" font-size="19.7" text-anchor="end">100</text>
<text x="446.6" y="306.5" font-size="23.9" text-anchor="middle">Rotterdam</text>
<clipPath id="clipL3"><rect x="83.7" y="539.3" width="725.8" height="187.6"/></clipPath>
<rect x="83.7" y="539.3" width="725.8" height="187.6" fill="#f4f4f4"/>
<path d="M98.8 539.3V726.9M171.3 539.3V726.9M243.9 539.3V726.9M316.4 539.3V726.9M389 539.3V726.9M461.5 539.3V726.9M534 539.3V726.9M606.6 539.3V726.9M679.1 539.3V726.9M751.7 539.3V726.9" stroke="#cbcbcb" stroke-width="1.2" fill="none"/>
<path d="M83.7 726.9H809.5M83.7 641.6H809.5M83.7 556.4H809.5" stroke="#bababa" stroke-width="1.2" fill="none"/>
<g clip-path="url(#clipL3)">
<path d="M83.7 654.4L86.2 664.4L88.7 676.8L91.2 689.3L92.4 696.7L93.7 706.7L94.9 716.6L97.4 725.3M183.3 698.0L188.2 694.2L193.2 691.8L196.9 690.5M201.9 688.0L206.9 685.5M213.1 684.3h0.01M219.3 669.4h0.01M224.3 664.4L229.3 665.6L234.3 666.9L238.0 668.1L240.5 670.6M244.2 671.8L249.2 670.6L251.7 669.4L254.2 676.8L257.9 679.3L260.4 684.3M266.6 676.8L271.6 671.8L274.1 670.6M286.5 676.8L289.0 679.3L294.0 674.3L299.0 681.8L303.9 686.8L307.7 691.8L310.2 694.2M320.1 684.3L326.3 681.8L333.8 680.6L341.3 679.3L348.7 680.6L353.7 684.3L356.2 685.5M362.4 681.8L367.4 685.5L372.4 686.8L377.3 688.0L378.6 691.8M391.0 690.5L392.3 699.2M398.5 699.2L403.5 698.0L408.4 696.7L413.4 694.2M425.9 689.3L430.8 685.5L438.3 684.3L443.3 681.8L448.3 679.3L450.0 679.3M440.0 681.8L445.0 679.3L450.0 679.3L454.9 681.8L459.9 680.6L464.9 681.8L469.9 678.8L474.8 679.3L477.3 684.3L482.3 686.8L486.0 688.0M493.5 679.3L497.2 678.1L502.2 675.6L507.2 678.1M522.1 686.8L525.8 691.8L529.6 693.0L533.3 695.5L537.0 698.0L540.8 700.5M544.5 699.2L549.5 701.7L553.2 706.7M561.9 699.2L566.9 699.2L570.6 701.7M576.8 696.7h0.01M581.8 694.2h0.01M589.3 691.8L594.3 694.2L599.2 696.7L604.2 696.7L608.0 695.5L611.7 699.2L615.4 701.7L619.1 703.0L624.1 704.2L629.1 704.2L634.1 706.7L637.8 709.2L641.5 710.4L646.5 711.7L651.5 714.1L656.5 715.4M661.4 709.2L665.2 711.7M695.0 709.2L697.5 711.7L700.0 709.2M728.6 710.4L732.4 712.9L736.1 714.1M764.7 703.0L767.2 706.7L769.7 711.7L772.2 716.6L774.7 722.9" stroke="#d62728" stroke-width="3.6" stroke-linecap="round" stroke-linejoin="round" fill="none"/>
<path d="M111.1 706.7L114.8 709.2L119.8 712.9L124.8 714.1L128.5 716.6M137.2 716.6L142.2 720.4L147.2 722.9L152.2 722.9M167.1 716.6h0.01M190.7 696.7L194.5 689.3L196.9 686.8L199.4 684.3M203.2 679.3h0.01M211.9 670.6h0.01M216.4 663.9h0.01M220.6 654.4L224.3 659.4L229.3 664.4L234.3 669.4L239.2 673.1L243.0 678.1M249.2 676.8L254.2 684.3L256.7 686.8L261.6 684.3M265.4 676.8L274.1 675.6L279.1 674.3L286.5 673.1L294.0 673.1L299.0 675.6L303.9 676.8L308.9 675.6L313.9 675.6L318.9 675.6L328.8 675.6L338.8 675.6L346.2 675.6L350.0 670.6L353.7 666.9L358.7 660.7L366.1 659.4L373.6 659.4L381.1 659.4L386.0 663.1L391.0 666.9L393.5 676.8L396.0 679.3L403.5 679.3L410.9 679.3L418.4 678.8L423.4 681.8L425.9 684.3M430.8 678.1L435.8 679.3L440.8 681.8L445.8 683.0L450.0 684.3M440.0 684.3L445.0 684.3L450.0 685.5L454.9 683.0L459.9 681.8L464.9 683.0L469.9 681.8L474.8 683.0L479.8 684.3L484.8 683.8L489.8 683.8L494.7 683.0L499.7 680.6L504.7 679.3L509.7 678.1L514.6 678.1L519.6 681.8L524.6 683.8L529.6 683.8L534.6 685.5L539.5 686.8L544.5 688.0L549.5 688.0M553.2 685.5L556.9 681.8L561.9 681.8L565.7 683.0L569.4 680.6L574.4 679.3L579.3 678.8L584.3 676.8L589.3 676.8L594.3 676.8L599.2 675.6L604.2 673.1L609.2 673.1L614.2 673.1L619.1 674.3L624.1 673.1L629.1 670.6L634.1 674.3L639.1 676.8L644.0 678.1L647.8 681.8L651.5 686.8L655.2 691.8L659.0 698.0L662.7 704.2L666.4 709.2L671.4 712.9L676.4 715.4L682.6 714.1M705.0 689.3h0.01M711.2 681.8L716.2 681.8L721.2 679.3L726.1 679.3L731.1 679.3L736.1 678.1L741.1 677.3L746.0 676.8L749.8 675.6L753.5 676.8L757.2 678.8L761.0 684.3L766.0 690.5L770.9 696.7L775.9 704.2L780.9 711.7L785.9 717.9L790.8 724.1" stroke="#ff7f0e" stroke-width="4.0" stroke-linecap="round" stroke-linejoin="round" fill="none"/>
<path d="M83.7 694.2L88.7 698.0L93.7 700.5L98.7 703.0L103.6 705.4L108.6 704.2M112.3 698.0L114.8 701.7L118.6 704.2L124.8 704.2M132.3 699.2L137.2 701.7L142.2 703.0L148.4 706.7M154.6 700.5L159.6 696.7L164.6 693.0L168.3 691.8M174.6 693.0L179.5 696.2L184.5 699.2L188.2 701.7M192.0 696.7L195.7 696.7L199.4 699.2L204.4 701.7L209.4 703.0L214.4 703.7M221.8 700.5L225.6 699.2L229.3 703.0L234.3 704.2L239.2 706.7M245.5 701.7L251.7 701.2L256.7 701.7L261.6 703.0L266.6 705.4L271.6 703.0L276.6 701.7L281.5 700.5L286.5 701.2L291.5 700.5L296.5 698.0L301.4 696.7L306.4 697.2L311.4 699.2L316.4 700.5M320.1 704.2L323.8 701.7L328.8 700.5L333.8 703.0L338.8 705.4L343.7 704.2L348.7 703.7M358.7 699.2L363.7 704.2L368.6 705.4L373.6 704.2L378.6 706.7L383.6 707.9L388.5 709.2M401.0 709.2L406.0 712.2L410.9 712.9L415.9 714.1L422.1 714.1M435.8 711.7L440.8 712.9L445.8 713.7L450.0 714.1M440.0 711.7L445.0 712.9L450.0 714.1L453.7 716.6M461.1 719.1L467.4 720.4M476.1 722.9L479.8 722.9M514.6 699.2L519.6 696.7M523.4 693.0L528.3 691.8M534.6 689.3L539.5 686.8L544.5 688.0L549.5 691.8L554.5 696.7L559.4 699.2L564.4 700.5L569.4 704.2L574.4 706.7L579.3 709.2L584.3 707.9L589.3 706.2M594.3 701.7L598.0 702.2M617.9 693.0L621.6 698.0L625.4 701.7L629.1 704.2M634.1 706.7L639.1 711.7L644.0 711.7L649.0 714.1L654.0 715.4L659.0 714.6L663.9 712.9M691.3 714.1L696.3 712.9L701.3 710.4L705.0 707.9M728.6 698.0L733.6 698.0L738.6 698.0L743.6 698.7L747.3 701.2M761.0 694.2L766.0 693.0L770.9 694.2L774.7 696.7L778.4 701.7" stroke="#1f77b4" stroke-width="3.6" stroke-linecap="round" stroke-linejoin="round" fill="none" stroke-dasharray="3 5"/>
<path d="M83.7 612.1L86.2 619.6L88.7 634.5L91.2 649.5L93.7 666.9L96.2 681.8L98.7 689.3L102.4 690.5L106.1 688.0L108.6 685.5M111.1 676.8L114.8 680.6L118.6 681.8L122.3 685.5L124.8 689.3L127.3 690.5M133.5 684.3L137.2 686.8L141.0 689.3L144.7 694.2L148.4 699.2L152.2 698.7M174.6 660.7L179.5 659.4L183.3 656.9L187.0 651.9L189.5 644.5L192.0 635.8M219.3 569.8L221.8 567.3L224.3 563.6L226.8 577.3L229.3 587.3L233.0 591.0L236.8 597.2L240.5 602.2L243.0 605.9L246.7 596.0L251.7 594.7L254.2 602.2L256.7 617.1L259.1 612.1L261.6 619.6M264.1 607.2h0.01M266.6 600.9L270.3 596.0L275.3 597.2L279.1 593.5L282.8 599.7L286.5 594.7L290.3 598.4L294.0 589.7L296.5 597.2L300.2 602.2L303.9 609.6L308.9 613.4L313.9 617.1L317.6 614.6L321.4 607.2L326.3 605.9L331.3 603.4L336.3 607.2L341.3 605.9L343.7 609.6L347.5 602.2L351.2 597.2L356.2 589.7L359.9 588.5L363.7 594.7L368.6 596.0L373.6 598.4L378.6 602.2L383.6 609.6L388.5 610.9L392.3 629.6L394.8 637.0L399.7 639.5L403.5 637.0L408.4 634.5L413.4 633.3L418.4 632.0L423.4 633.3L427.1 634.5M429.6 624.6L433.3 623.3L438.3 624.6L443.3 623.3L447.0 622.1L450.0 624.6M440.0 624.6L445.0 620.8L450.0 625.8L454.9 628.3L459.9 625.8L462.4 630.8L467.4 629.6L472.3 633.3L477.3 638.3L481.1 639.5L486.0 635.8M487.3 630.8L492.3 623.3L497.2 618.4L502.2 615.9L507.2 612.1L512.2 607.2L515.9 602.2L519.6 607.2L523.4 612.1L528.3 615.9L533.3 614.6L537.0 620.8L542.0 620.8L547.0 625.8L552.0 630.8L556.9 630.8L561.9 628.3L565.7 632.0L569.4 639.5L573.1 634.5L578.1 632.0L581.8 630.8L586.8 624.6L591.8 619.6L596.8 620.8L599.2 623.3L603.0 614.6L606.7 609.6L611.7 614.6L616.7 618.4L621.6 622.1L626.6 625.8L631.6 628.3L635.3 635.8L639.1 642.0L642.8 647.0L646.5 651.9L651.5 659.4L656.5 666.9L661.4 671.8L665.2 676.8L668.9 680.6L672.6 684.3L676.4 689.3L682.6 689.3M691.3 679.3h0.01M695.0 670.6L698.8 664.4L702.5 659.4L705.0 655.7M711.2 640.7L716.2 640.7L721.2 638.3L726.1 635.8L728.6 633.3L733.6 637.0L737.3 632.0L741.1 627.1L744.8 624.6L749.8 628.3L753.5 629.6L757.2 627.1L761.0 629.6L764.7 634.5L767.2 639.5L769.7 647.0L772.2 656.9L774.7 666.9L777.1 676.8L779.6 684.3L783.4 689.3L788.3 694.2L790.8 700.5L793.3 704.2L798.3 711.7L803.3 719.1L808.3 724.1" stroke="#7f7f7f" stroke-width="4.6" stroke-linecap="round" stroke-linejoin="round" fill="none"/>
<path d="M154.6 689.3L157.1 684.3L159.6 678.8L164.6 666.9L168.3 661.9M192.0 635.8L194.5 623.3L198.2 622.1L201.9 618.4L205.7 609.6L209.4 605.9L214.4 602.2L216.8 586.0" stroke="#7f7f7f" stroke-width="4.6" stroke-linecap="round" stroke-linejoin="round" fill="none" stroke-dasharray="0.1 6"/>
</g>
<rect x="96.2" y="539.3" width="11.9" height="187.6" fill="#d62728" fill-opacity="0.4"/>
<rect x="122.3" y="539.3" width="5" height="187.6" fill="#d62728" fill-opacity="0.4"/>
<rect x="136" y="539.3" width="14.9" height="187.6" fill="#d62728" fill-opacity="0.4"/>
<rect x="673.4" y="539.3" width="8.5" height="187.6" fill="#d62728" fill-opacity="0.4"/>
<rect x="779.6" y="539.3" width="29.9" height="187.6" fill="#ff7f0e" fill-opacity="0.4"/>
<path d="M83.7 539.3V726.9" stroke="#8a8a8a" stroke-width="1.4" fill="none"/>
<path d="M809.5 539.3V726.9" stroke="#8a8a8a" stroke-width="1.2" fill="none"/>
<path d="M83.1 726.9H810.1" stroke="#6a6a6a" stroke-width="1.3" fill="none"/>
<path d="M83.1 539.3H810.1" stroke="#000" stroke-width="1.4" fill="none"/>
<path d="M83.7 726.9v2.8M86.7 726.9v2.8M89.7 726.9v2.8M92.8 726.9v2.8M95.8 726.9v2.8M98.8 726.9v2.8M101.8 726.9v2.8M104.8 726.9v2.8M107.9 726.9v2.8M110.9 726.9v2.8M113.9 726.9v2.8M116.9 726.9v2.8M120 726.9v2.8M123 726.9v2.8M126 726.9v2.8M129 726.9v2.8M132 726.9v2.8M135.1 726.9v2.8M138.1 726.9v2.8M141.1 726.9v2.8M144.1 726.9v2.8M147.2 726.9v2.8M150.2 726.9v2.8M153.2 726.9v2.8M156.2 726.9v2.8M159.2 726.9v2.8M162.3 726.9v2.8M165.3 726.9v2.8M168.3 726.9v2.8M171.3 726.9v2.8M174.4 726.9v2.8M177.4 726.9v2.8M180.4 726.9v2.8M183.4 726.9v2.8M186.5 726.9v2.8M189.5 726.9v2.8M192.5 726.9v2.8M195.5 726.9v2.8M198.5 726.9v2.8M201.6 726.9v2.8M204.6 726.9v2.8M207.6 726.9v2.8M210.6 726.9v2.8M213.7 726.9v2.8M216.7 726.9v2.8M219.7 726.9v2.8M222.7 726.9v2.8M225.7 726.9v2.8M228.8 726.9v2.8M231.8 726.9v2.8M234.8 726.9v2.8M237.8 726.9v2.8M240.9 726.9v2.8M243.9 726.9v2.8M246.9 726.9v2.8M249.9 726.9v2.8M252.9 726.9v2.8M256 726.9v2.8M259 726.9v2.8M262 726.9v2.8M265 726.9v2.8M268.1 726.9v2.8M271.1 726.9v2.8M274.1 726.9v2.8M277.1 726.9v2.8M280.2 726.9v2.8M283.2 726.9v2.8M286.2 726.9v2.8M289.2 726.9v2.8M292.2 726.9v2.8M295.3 726.9v2.8M298.3 726.9v2.8M301.3 726.9v2.8M304.3 726.9v2.8M307.4 726.9v2.8M310.4 726.9v2.8M313.4 726.9v2.8M316.4 726.9v2.8M319.4 726.9v2.8M322.5 726.9v2.8M325.5 726.9v2.8M328.5 726.9v2.8M331.5 726.9v2.8M334.6 726.9v2.8M337.6 726.9v2.8M340.6 726.9v2.8M343.6 726.9v2.8M346.6 726.9v2.8M349.7 726.9v2.8M352.7 726.9v2.8M355.7 726.9v2.8M358.7 726.9v2.8M361.8 726.9v2.8M364.8 726.9v2.8M367.8 726.9v2.8M370.8 726.9v2.8M373.8 726.9v2.8M376.9 726.9v2.8M379.9 726.9v2.8M382.9 726.9v2.8M385.9 726.9v2.8M389 726.9v2.8M392 726.9v2.8M395 726.9v2.8M398 726.9v2.8M401.1 726.9v2.8M404.1 726.9v2.8M407.1 726.9v2.8M410.1 726.9v2.8M413.1 726.9v2.8M416.2 726.9v2.8M419.2 726.9v2.8M422.2 726.9v2.8M425.2 726.9v2.8M428.3 726.9v2.8M431.3 726.9v2.8M434.3 726.9v2.8M437.3 726.9v2.8M440.3 726.9v2.8M443.4 726.9v2.8M446.4 726.9v2.8M449.4 726.9v2.8M452.4 726.9v2.8M455.5 726.9v2.8M458.5 726.9v2.8M461.5 726.9v2.8M464.5 726.9v2.8M467.5 726.9v2.8M470.6 726.9v2.8M473.6 726.9v2.8M476.6 726.9v2.8M479.6 726.9v2.8M482.7 726.9v2.8M485.7 726.9v2.8M488.7 726.9v2.8M491.7 726.9v2.8M494.7 726.9v2.8M497.8 726.9v2.8M500.8 726.9v2.8M503.8 726.9v2.8M506.8 726.9v2.8M509.9 726.9v2.8M512.9 726.9v2.8M515.9 726.9v2.8M518.9 726.9v2.8M522 726.9v2.8M525 726.9v2.8M528 726.9v2.8M531 726.9v2.8M534 726.9v2.8M537.1 726.9v2.8M540.1 726.9v2.8M543.1 726.9v2.8M546.1 726.9v2.8M549.2 726.9v2.8M552.2 726.9v2.8M555.2 726.9v2.8M558.2 726.9v2.8M561.2 726.9v2.8M564.3 726.9v2.8M567.3 726.9v2.8M570.3 726.9v2.8M573.3 726.9v2.8M576.4 726.9v2.8M579.4 726.9v2.8M582.4 726.9v2.8M585.4 726.9v2.8M588.4 726.9v2.8M591.5 726.9v2.8M594.5 726.9v2.8M597.5 726.9v2.8M600.5 726.9v2.8M603.6 726.9v2.8M606.6 726.9v2.8M609.6 726.9v2.8M612.6 726.9v2.8M615.6 726.9v2.8M618.7 726.9v2.8M621.7 726.9v2.8M624.7 726.9v2.8M627.7 726.9v2.8M630.8 726.9v2.8M633.8 726.9v2.8M636.8 726.9v2.8M639.8 726.9v2.8M642.9 726.9v2.8M645.9 726.9v2.8M648.9 726.9v2.8M651.9 726.9v2.8M654.9 726.9v2.8M658 726.9v2.8M661 726.9v2.8M664 726.9v2.8M667 726.9v2.8M670.1 726.9v2.8M673.1 726.9v2.8M676.1 726.9v2.8M679.1 726.9v2.8M682.1 726.9v2.8M685.2 726.9v2.8M688.2 726.9v2.8M691.2 726.9v2.8M694.2 726.9v2.8M697.3 726.9v2.8M700.3 726.9v2.8M703.3 726.9v2.8M706.3 726.9v2.8M709.3 726.9v2.8M712.4 726.9v2.8M715.4 726.9v2.8M718.4 726.9v2.8M721.4 726.9v2.8M724.5 726.9v2.8M727.5 726.9v2.8M730.5 726.9v2.8M733.5 726.9v2.8M736.5 726.9v2.8M739.6 726.9v2.8M742.6 726.9v2.8M745.6 726.9v2.8M748.6 726.9v2.8M751.7 726.9v2.8M754.7 726.9v2.8M757.7 726.9v2.8M760.7 726.9v2.8M763.8 726.9v2.8M766.8 726.9v2.8M769.8 726.9v2.8M772.8 726.9v2.8M775.8 726.9v2.8M778.9 726.9v2.8M781.9 726.9v2.8M784.9 726.9v2.8M787.9 726.9v2.8M791 726.9v2.8M794 726.9v2.8M797 726.9v2.8M800 726.9v2.8M803 726.9v2.8M806.1 726.9v2.8M809.1 726.9v2.8" stroke="#333" stroke-width="0.9" fill="none"/>
<path d="M98.8 726.9v4.6M171.3 726.9v4.6M243.9 726.9v4.6M316.4 726.9v4.6M389 726.9v4.6M461.5 726.9v4.6M534 726.9v4.6M606.6 726.9v4.6M679.1 726.9v4.6M751.7 726.9v4.6M83.7 726.9h-4.6M83.7 641.6h-4.6M83.7 556.4h-4.6" stroke="#000" stroke-width="1.1" fill="none"/>
<text x="75.3" y="734" font-size="19.7" text-anchor="end">0</text>
<text x="75.3" y="648.7" font-size="19.7" text-anchor="end">50</text>
<text x="75.3" y="563.5" font-size="19.7" text-anchor="end">100</text>
<text x="97.5" y="748.4" font-size="19.7" text-anchor="end" transform="rotate(-30 97.5 748.4)">1992-01</text>
<text x="170" y="748.4" font-size="19.7" text-anchor="end" transform="rotate(-30 170 748.4)">1994-01</text>
<text x="242.6" y="748.4" font-size="19.7" text-anchor="end" transform="rotate(-30 242.6 748.4)">1996-01</text>
<text x="315.1" y="748.4" font-size="19.7" text-anchor="end" transform="rotate(-30 315.1 748.4)">1998-01</text>
<text x="387.7" y="748.4" font-size="19.7" text-anchor="end" transform="rotate(-30 387.7 748.4)">2000-01</text>
<text x="460.2" y="748.4" font-size="19.7" text-anchor="end" transform="rotate(-30 460.2 748.4)">2002-01</text>
<text x="532.7" y="748.4" font-size="19.7" text-anchor="end" transform="rotate(-30 532.7 748.4)">2004-01</text>
<text x="605.3" y="748.4" font-size="19.7" text-anchor="end" transform="rotate(-30 605.3 748.4)">2006-01</text>
<text x="677.8" y="748.4" font-size="19.7" text-anchor="end" transform="rotate(-30 677.8 748.4)">2008-01</text>
<text x="750.4" y="748.4" font-size="19.7" text-anchor="end" transform="rotate(-30 750.4 748.4)">2010-01</text>
<text x="446.6" y="531.6" font-size="23.9" text-anchor="middle">Liège</text>
<clipPath id="clipR1"><rect x="888.7" y="102.6" width="712.8" height="184.2"/></clipPath>
<rect x="888.7" y="102.6" width="712.8" height="184.2" fill="#f4f4f4"/>
<path d="M888.7 102.6V286.8M976.4 102.6V286.8M1065.5 102.6V286.8M1153.1 102.6V286.8M1242.2 102.6V286.8M1329.9 102.6V286.8M1419 102.6V286.8M1507.1 102.6V286.8M1596.2 102.6V286.8" stroke="#cbcbcb" stroke-width="1.2" fill="none"/>
<path d="M888.7 286.8H1601.5M888.7 225.4H1601.5M888.7 164H1601.5M888.7 102.6H1601.5" stroke="#bababa" stroke-width="1.2" fill="none"/>
<g clip-path="url(#clipR1)">
<path d="M889.5 259.0L918.4 259.0M977.3 249.0L1056.3 249.0M1057.5 247.9L1154.2 247.9M1207.7 247.9L1245.0 247.9M1240.0 248.1L1294.1 248.1M1334.7 249.9L1348.3 251.1L1411.4 251.1M1438.5 248.1L1499.4 248.1" stroke="#d62728" stroke-width="3.0" stroke-linecap="round" stroke-linejoin="round" fill="none"/>
<path d="M889.5 257.9L951.8 257.9M977.3 248.5L1056.3 248.5M1058.6 250.8L1063.0 250.8L1067.5 251.7L1140.9 251.7M1146.5 250.8h0.01M1152.0 248.5L1207.7 248.5L1209.9 249.4L1245.0 249.4M1240.0 249.5L1294.1 249.5M1295.3 248.1L1330.2 248.1L1334.7 248.1L1411.4 248.1L1418.2 249.9L1420.5 249.9L1438.5 249.9L1497.2 249.9L1499.4 248.1L1516.3 248.1L1522.0 251.1L1533.3 255.6L1544.5 260.1L1555.8 264.6L1567.1 269.1L1578.4 273.6L1589.7 278.1L1600.9 283.3" stroke="#ff7f0e" stroke-width="3.0" stroke-linecap="round" stroke-linejoin="round" fill="none"/>
<path d="M889.5 264.6h0.01M893.9 262.3h0.01M899.5 261.2h0.01M905.0 259.7h0.01M909.5 258.3h0.01M913.9 257.2h0.01M918.4 256.1h0.01M922.8 255.2h0.01M927.3 254.3h0.01M931.7 253.4h0.01M936.2 252.5h0.01M940.6 251.2h0.01M945.1 250.3h0.01M949.5 249.9h0.01M954.0 249.9h0.01M958.4 249.9h0.01M962.9 249.9h0.01M967.3 249.9h0.01M972.9 249.9h0.01M977.3 250.8L982.9 250.8L987.4 250.8L991.8 250.8L996.3 251.2L998.5 253.0L1002.9 253.4L1007.4 253.9L1011.8 254.5M1016.3 253.4L1020.7 254.5L1025.2 254.5L1031.9 254.5L1036.3 254.5M1040.8 253.0L1043.0 253.0M1049.7 251.2L1053.0 251.2M1056.3 249.0h0.01M1069.7 246.3L1074.1 246.3L1078.6 246.3L1083.0 246.3M1088.6 244.1L1093.1 244.1M1098.6 242.3L1103.1 242.3M1108.6 241.2L1113.1 241.2L1117.5 241.2L1122.0 241.2L1125.3 241.2L1128.7 243.4L1132.0 242.3L1136.4 241.2L1138.7 240.5L1142.0 242.3L1145.3 244.5L1148.7 243.4L1152.0 241.2L1156.5 239.6L1160.9 238.3L1165.4 236.7L1169.8 237.9L1174.3 236.7L1178.7 235.2L1183.2 233.8L1187.6 232.3L1192.1 232.3L1196.5 233.4L1201.0 232.3L1205.4 231.2L1209.9 230.7L1214.3 229.0M1218.8 223.4L1223.2 222.7M1234.4 217.4L1238.8 217.4L1245.0 217.4M1240.0 217.2L1244.5 216.1L1249.0 215.6L1253.5 215.0M1258.0 212.7h0.01M1262.6 209.8L1267.1 209.8M1273.8 207.5L1278.3 207.1M1282.9 203.7h0.01M1287.4 202.1L1290.8 200.8M1295.3 198.5L1300.9 198.5L1307.7 198.5L1312.2 200.3M1315.6 200.8L1320.1 202.1L1323.5 204.8L1325.7 206.6L1330.2 206.6M1332.5 208.2L1339.3 208.9L1346.0 209.3L1352.8 209.3L1357.3 208.9L1361.8 209.3L1365.2 211.6L1368.6 214.3L1375.3 214.3L1384.4 214.3L1393.4 214.3L1397.9 215.6L1400.2 214.3M1405.8 211.1L1408.1 210.5M1414.8 206.6L1418.2 205.9M1421.6 203.7L1429.5 203.0L1436.3 202.6L1443.0 202.6L1446.4 204.8M1450.9 202.6h0.01M1457.7 196.9L1465.6 196.9L1474.6 196.9L1483.6 196.9L1485.9 196.2L1488.1 199.2L1490.4 200.8L1494.9 201.4L1499.4 202.1L1503.9 202.6L1508.4 203.7L1513.0 203.7L1516.3 205.9L1519.7 209.3L1524.2 213.8L1528.7 218.3L1533.3 222.9L1537.8 227.8L1542.3 232.3L1546.8 236.8L1551.3 242.0" stroke="#1f77b4" stroke-width="3.0" stroke-linecap="round" stroke-linejoin="round" fill="none"/>
<path d="M889.5 243.4L893.9 242.3L898.4 240.1L902.8 239.6L907.3 239.0L911.7 238.3L916.2 237.4L920.6 236.7L925.1 236.7L929.5 236.1L934.0 235.6L938.4 235.2L942.9 234.1L947.3 233.4L951.8 232.3M956.2 231.2h0.01M960.7 230.1h0.01M965.1 229.0h0.01M969.6 227.8h0.01M974.0 226.7L978.5 224.5L982.9 224.1L987.4 224.1L991.8 224.5L996.3 225.6L1000.7 227.2L1005.2 227.2L1009.6 226.7L1014.1 226.7L1018.5 227.2L1023.0 227.2L1027.4 227.2L1031.9 227.2L1036.3 227.2L1040.8 227.2L1045.2 226.7L1049.7 225.2L1054.1 224.5L1058.6 223.4L1063.0 221.8L1067.5 221.8L1071.9 221.8L1076.4 222.3L1080.8 221.8L1085.3 221.2L1089.7 219.6L1094.2 219.6L1098.6 220.1L1103.1 219.6L1107.5 218.9L1112.0 218.9L1116.4 218.3L1120.9 218.3L1125.3 218.9L1129.8 220.5L1134.2 221.2L1138.7 221.2L1143.1 221.8L1147.6 222.7L1152.0 223.4L1156.5 223.4L1160.9 223.4L1165.4 223.4L1169.8 223.4L1174.3 224.5L1178.7 224.5L1183.2 224.5L1187.6 224.5L1192.1 224.9L1196.5 225.6L1201.0 226.3L1205.4 226.7L1209.9 227.2L1214.3 226.7L1218.8 225.6L1223.2 224.9L1227.7 224.5L1232.1 223.4L1236.6 222.3L1241.0 221.8L1245.0 221.8M1240.0 222.9L1244.5 223.3L1249.0 222.9L1253.5 222.4L1258.0 222.4L1262.6 221.7L1267.1 221.3L1271.6 221.1L1276.1 221.3L1280.6 220.6L1285.1 220.2L1289.6 220.2L1294.1 218.8L1298.7 218.8L1303.2 218.8L1307.7 218.8L1312.2 218.8L1316.7 218.3L1321.2 219.5L1325.7 221.1L1330.2 221.7L1334.7 221.7L1339.3 221.7L1343.8 221.7L1348.3 221.7L1352.8 221.7L1357.3 222.0L1361.8 222.9L1366.3 225.1L1368.6 226.2L1375.3 226.2L1384.4 226.2L1393.4 226.2L1402.4 226.2L1409.2 226.2L1411.4 224.0L1416.0 223.3L1420.5 222.4L1425.0 222.0L1429.5 221.7L1434.0 221.7L1438.5 221.7L1443.0 221.7L1447.5 221.1L1452.0 220.6L1454.3 218.8L1461.1 218.8L1470.1 218.8L1479.1 218.8L1488.1 218.8L1497.2 218.8L1506.2 218.8L1513.0 218.3L1517.5 219.5L1522.0 222.9L1526.5 227.4L1531.0 230.8L1535.5 233.0L1540.0 237.5L1544.5 240.9L1549.0 243.2L1553.6 245.4L1558.1 249.9L1562.6 254.4L1567.1 257.8L1571.6 262.3L1576.1 264.6L1580.6 268.0L1585.1 271.4L1589.7 274.7L1594.2 277.0L1598.7 281.5L1600.9 283.8" stroke="#7f7f7f" stroke-width="3.0" stroke-linecap="round" stroke-linejoin="round" fill="none"/>
</g>
<rect x="1551.5" y="102.6" width="50" height="184.2" fill="#ff7f0e" fill-opacity="0.4"/>
<path d="M888.7 102.6V286.8" stroke="#8a8a8a" stroke-width="1.4" fill="none"/>
<path d="M1601.5 102.6V286.8" stroke="#8a8a8a" stroke-width="1.2" fill="none"/>
<path d="M888.1 286.8H1602.1" stroke="#111" stroke-width="1.3" fill="none"/>
<path d="M888.1 102.6H1602.1" stroke="#000" stroke-width="1.4" fill="none"/>
<path d="M888.7 286.8v2.8M903.7 286.8v2.8M917.3 286.8v2.8M932.3 286.8v2.8M946.8 286.8v2.8M961.8 286.8v2.8M976.4 286.8v2.8M991.4 286.8v2.8M1006.4 286.8v2.8M1020.9 286.8v2.8M1035.9 286.8v2.8M1050.4 286.8v2.8M1065.5 286.8v2.8M1080.5 286.8v2.8M1094 286.8v2.8M1109 286.8v2.8M1123.6 286.8v2.8M1138.6 286.8v2.8M1153.1 286.8v2.8M1168.1 286.8v2.8M1183.1 286.8v2.8M1197.7 286.8v2.8M1212.7 286.8v2.8M1227.2 286.8v2.8M1242.2 286.8v2.8M1257.2 286.8v2.8M1270.8 286.8v2.8M1285.8 286.8v2.8M1300.3 286.8v2.8M1315.3 286.8v2.8M1329.9 286.8v2.8M1344.9 286.8v2.8M1359.9 286.8v2.8M1374.4 286.8v2.8M1389.4 286.8v2.8M1404 286.8v2.8M1419 286.8v2.8M1434 286.8v2.8M1448 286.8v2.8M1463 286.8v2.8M1477.6 286.8v2.8M1492.6 286.8v2.8M1507.1 286.8v2.8M1522.1 286.8v2.8M1537.1 286.8v2.8M1551.7 286.8v2.8M1566.7 286.8v2.8M1581.2 286.8v2.8M1596.2 286.8v2.8" stroke="#333" stroke-width="0.9" fill="none"/>
<path d="M888.7 286.8v4.6M976.4 286.8v4.6M1065.5 286.8v4.6M1153.1 286.8v4.6M1242.2 286.8v4.6M1329.9 286.8v4.6M1419 286.8v4.6M1507.1 286.8v4.6M1596.2 286.8v4.6M888.7 286.8h-4.6M888.7 225.4h-4.6M888.7 164h-4.6M888.7 102.6h-4.6" stroke="#000" stroke-width="1.1" fill="none"/>
<text x="880.3" y="293.9" font-size="19.3" text-anchor="end">0</text>
<text x="880.3" y="232.5" font-size="19.3" text-anchor="end">50</text>
<text x="880.3" y="171.1" font-size="19.3" text-anchor="end">100</text>
<text x="880.3" y="109.7" font-size="19.3" text-anchor="end">150</text>
<text x="1245.1" y="95.2" font-size="23.55" text-anchor="middle">Limassol</text>
<clipPath id="clipR2"><rect x="888.7" y="323.4" width="712.8" height="184"/></clipPath>
<rect x="888.7" y="323.4" width="712.8" height="184" fill="#f4f4f4"/>
<path d="M888.7 323.4V507.4M976.4 323.4V507.4M1065.5 323.4V507.4M1153.1 323.4V507.4M1242.2 323.4V507.4M1329.9 323.4V507.4M1419 323.4V507.4M1507.1 323.4V507.4M1596.2 323.4V507.4" stroke="#cbcbcb" stroke-width="1.2" fill="none"/>
<path d="M888.7 507.4H1601.5M888.7 446.1H1601.5M888.7 384.7H1601.5M888.7 323.4H1601.5" stroke="#bababa" stroke-width="1.2" fill="none"/>
<g clip-path="url(#clipR2)">
<path d="M889.7 451.2L903.9 452.4L908.6 453.5L939.4 453.5L952.4 454.2M977.2 434.6L991.4 434.6L996.1 433.4L1026.8 433.4L1031.5 431.6L1041.0 431.6L1045.7 429.9L1050.4 427.5L1057.5 426.4L1062.3 422.8L1067.0 419.3L1074.1 415.7L1081.2 413.4L1088.3 409.8L1093.0 407.9L1097.7 405.6L1102.4 403.2L1107.2 401.5L1111.9 401.1L1121.4 400.4L1130.8 398.0L1140.3 399.2L1145.0 399.2L1149.7 400.8L1168.6 401.5L1178.1 402.7L1201.7 402.7L1208.8 400.4L1213.5 395.6L1218.3 392.1L1223.0 388.5L1227.7 386.2L1234.8 383.8L1239.5 381.5L1245.0 379.1M1240.0 382.6L1244.7 380.2L1249.4 377.9L1254.2 375.5L1258.9 373.9L1263.6 372.0L1268.3 369.1L1273.1 366.8L1277.8 364.9L1282.5 363.0L1287.2 361.3L1292.0 360.2L1301.4 361.3L1310.9 361.3L1320.3 361.3L1329.8 361.3L1334.5 364.9L1343.9 364.9L1358.1 364.9L1372.3 364.9L1381.7 361.3L1391.2 360.6L1405.4 360.6L1414.8 362.5L1419.5 363.7L1424.3 359.0L1433.7 359.0L1452.6 359.0L1476.2 359.7L1481.0 361.3L1485.7 363.7L1490.4 366.1L1495.1 368.4L1499.9 369.6L1507.0 370.8L1511.7 372.4L1515.2 374.8L1518.8 381.4L1523.5 388.5L1528.2 398.0L1532.9 407.4L1537.7 414.5L1542.4 421.6L1547.1 428.7L1551.8 438.1L1556.6 445.2L1561.3 452.3L1566.0 459.4L1570.7 466.5L1575.5 472.4L1580.2 478.3L1584.9 484.2L1589.6 490.1L1594.4 496.0L1600.3 501.9" stroke="#d62728" stroke-width="3.0" stroke-linecap="round" stroke-linejoin="round" fill="none"/>
<path d="M889.7 438.2L908.6 439.4L925.2 441.0L953.5 441.0M977.2 415.7L993.7 415.7L998.4 414.5L1015.0 413.4L1036.3 413.4L1041.0 414.5L1045.7 411.0L1050.4 407.4L1054.0 405.1L1057.5 408.6L1062.3 403.9L1069.4 400.4L1074.1 393.3L1078.8 389.7L1083.5 386.2L1088.3 383.8L1093.0 381.9L1097.7 380.3L1102.4 377.9L1107.2 375.5L1111.9 372.0L1116.6 368.5L1121.4 364.9L1126.1 357.8L1130.8 355.5L1135.5 353.1L1140.3 355.0L1141.4 357.3M1147.3 350.7L1154.4 351.9L1159.2 353.1L1166.3 353.1L1171.0 355.5L1173.3 360.2L1178.1 353.1L1182.8 348.4L1187.5 346.0L1192.3 343.6L1197.0 341.7L1201.7 340.1L1206.4 338.4L1211.2 336.5L1215.9 334.7L1220.6 332.3L1225.3 329.5L1230.1 329.9L1234.8 330.6L1239.5 330.6L1245.0 329.5M1240.0 329.9L1247.1 330.6L1254.2 331.8L1257.7 330.6M1261.3 327.1L1266.0 325.9L1273.1 328.3L1280.2 330.6L1287.2 333.0L1292.0 337.7L1296.7 341.3L1301.4 344.8L1306.1 348.3L1310.9 351.9L1315.6 355.4L1320.3 350.7L1327.4 350.2L1334.5 349.5L1341.6 348.8L1348.7 350.2L1358.1 350.7L1367.6 351.9L1374.7 351.9L1381.7 348.3L1386.5 347.2L1395.9 345.5L1405.4 346.5L1410.1 347.9L1417.2 346.0L1424.3 347.9L1429.0 348.8L1436.1 350.2L1443.2 350.7L1452.6 351.2L1464.4 351.2L1476.2 351.2L1488.1 350.7L1495.1 350.2L1499.9 349.5L1507.0 348.8L1511.7 347.9L1516.4 345.5L1521.1 353.1L1525.8 362.5L1530.6 370.8L1535.3 379.1L1540.0 387.3L1544.7 395.6L1549.5 403.9L1554.2 412.1L1558.9 421.6L1563.6 431.0L1568.4 439.3L1573.1 448.8L1577.8 459.4L1582.5 467.6L1587.3 475.9L1592.0 483.0L1596.7 490.1L1600.3 497.2" stroke="#ff7f0e" stroke-width="3.0" stroke-linecap="round" stroke-linejoin="round" fill="none"/>
<path d="M895.6 489.0L901.5 487.8L911.0 484.3L920.5 480.7L929.9 479.5L934.6 477.2L939.4 475.5L944.1 474.8L948.8 474.8L953.5 474.8L959.5 474.8L964.2 476.0L968.9 478.4M980.7 475.5L985.4 476.5L989.0 477.2L993.7 477.9L998.4 477.9L1003.2 477.9L1007.9 477.9L1012.6 476.7L1017.4 478.4L1020.9 480.7L1024.4 481.9L1029.2 481.9L1032.7 481.9L1037.4 480.7L1039.8 480.2L1044.5 479.5M1058.7 475.5L1064.6 474.1M1075.3 472.0L1078.8 472.0L1083.5 470.8L1088.3 472.0L1093.0 472.0L1097.7 473.6L1100.1 474.6M1111.9 470.8L1116.6 472.0L1121.4 472.0L1126.1 472.0L1130.8 473.6L1135.5 474.3M1142.6 473.6L1147.3 472.9L1152.1 472.4L1154.4 474.1M1160.3 472.4L1163.9 472.4L1168.6 473.6L1172.2 475.3M1174.5 476.0L1178.1 474.1L1180.4 473.2M1187.5 467.7L1192.3 468.4M1197.0 464.6L1201.7 464.2M1205.3 463.0L1211.2 462.3L1214.7 462.3M1220.6 457.6h0.01M1227.7 458.3L1232.4 459.0L1237.2 460.6M1244.3 457.1h0.01M1244.7 457.0L1248.3 459.4L1253.0 460.6M1264.8 452.8L1269.5 452.8L1274.3 454.2M1280.2 451.1L1283.7 453.5L1287.2 455.1M1290.8 456.5L1296.7 454.7L1302.6 452.8L1308.5 454.2M1315.6 450.4L1321.5 448.8L1327.4 448.0L1332.1 450.4M1339.2 449.5L1343.9 448.8L1347.5 450.4M1352.2 444.7L1355.8 448.8L1360.5 450.4L1368.8 450.4M1375.8 444.7h0.01M1380.6 441.7L1391.2 441.7M1395.9 439.3L1400.6 439.3M1405.4 436.2L1410.1 439.3M1417.2 435.8L1421.9 436.9M1429.0 436.2L1432.5 438.1L1436.1 441.0L1438.4 441.7M1446.7 436.5L1449.1 436.5M1453.8 434.6L1460.9 434.6L1464.4 438.1L1469.2 441.7L1473.9 442.8L1478.6 447.6L1483.3 452.3L1488.1 457.0L1492.8 461.3M1497.5 462.9L1502.2 465.3L1507.0 470.0M1516.4 469.3L1521.1 473.6M1525.8 475.9L1530.6 480.6L1535.3 485.4L1540.0 488.9L1544.7 493.6L1548.3 497.7M1557.7 500.7L1561.3 501.9M1569.6 503.1h0.01" stroke="#1f77b4" stroke-width="3.0" stroke-linecap="round" stroke-linejoin="round" fill="none" stroke-dasharray="4 6"/>
<path d="M889.7 418.1L908.6 419.3L925.2 421.2L953.5 421.2M959.5 416.4h0.01M964.2 409.8L968.9 407.0M977.2 397.5L996.1 396.8L1015.0 395.2L1050.4 395.2L1057.5 397.5L1093.0 398.0L1097.7 399.2L1121.4 399.2L1145.0 398.0L1168.6 398.0L1180.4 399.9L1204.1 399.2L1245.0 399.2M1240.0 398.4L1249.4 398.4L1256.5 398.0L1261.3 396.1L1287.2 396.1L1315.6 396.1L1320.3 395.1L1381.7 395.1L1429.0 395.1L1476.2 395.1L1516.4 395.1L1523.5 402.7L1532.9 414.5L1542.4 426.3L1551.8 438.1L1561.3 449.9L1570.7 461.7L1580.2 473.6L1589.6 485.4L1600.3 500.7" stroke="#7f7f7f" stroke-width="3.0" stroke-linecap="round" stroke-linejoin="round" fill="none"/>
</g>
<rect x="1572.6" y="323.4" width="28.9" height="184" fill="#ff7f0e" fill-opacity="0.4"/>
<path d="M888.7 323.4V507.4" stroke="#8a8a8a" stroke-width="1.4" fill="none"/>
<path d="M1601.5 323.4V507.4" stroke="#8a8a8a" stroke-width="1.2" fill="none"/>
<path d="M888.1 507.4H1602.1" stroke="#111" stroke-width="1.3" fill="none"/>
<path d="M888.1 323.4H1602.1" stroke="#000" stroke-width="1.4" fill="none"/>
<path d="M888.7 507.4v2.8M903.7 507.4v2.8M917.3 507.4v2.8M932.3 507.4v2.8M946.8 507.4v2.8M961.8 507.4v2.8M976.4 507.4v2.8M991.4 507.4v2.8M1006.4 507.4v2.8M1020.9 507.4v2.8M1035.9 507.4v2.8M1050.4 507.4v2.8M1065.5 507.4v2.8M1080.5 507.4v2.8M1094 507.4v2.8M1109 507.4v2.8M1123.6 507.4v2.8M1138.6 507.4v2.8M1153.1 507.4v2.8M1168.1 507.4v2.8M1183.1 507.4v2.8M1197.7 507.4v2.8M1212.7 507.4v2.8M1227.2 507.4v2.8M1242.2 507.4v2.8M1257.2 507.4v2.8M1270.8 507.4v2.8M1285.8 507.4v2.8M1300.3 507.4v2.8M1315.3 507.4v2.8M1329.9 507.4v2.8M1344.9 507.4v2.8M1359.9 507.4v2.8M1374.4 507.4v2.8M1389.4 507.4v2.8M1404 507.4v2.8M1419 507.4v2.8M1434 507.4v2.8M1448 507.4v2.8M1463 507.4v2.8M1477.6 507.4v2.8M1492.6 507.4v2.8M1507.1 507.4v2.8M1522.1 507.4v2.8M1537.1 507.4v2.8M1551.7 507.4v2.8M1566.7 507.4v2.8M1581.2 507.4v2.8M1596.2 507.4v2.8" stroke="#333" stroke-width="0.9" fill="none"/>
<path d="M888.7 507.4v4.6M976.4 507.4v4.6M1065.5 507.4v4.6M1153.1 507.4v4.6M1242.2 507.4v4.6M1329.9 507.4v4.6M1419 507.4v4.6M1507.1 507.4v4.6M1596.2 507.4v4.6M888.7 507.4h-4.6M888.7 446.1h-4.6M888.7 384.7h-4.6M888.7 323.4h-4.6" stroke="#000" stroke-width="1.1" fill="none"/>
<text x="880.3" y="514.5" font-size="19.3" text-anchor="end">0</text>
<text x="880.3" y="453.2" font-size="19.3" text-anchor="end">50</text>
<text x="880.3" y="391.8" font-size="19.3" text-anchor="end">100</text>
<text x="880.3" y="330.5" font-size="19.3" text-anchor="end">150</text>
<text x="1245.1" y="315.9" font-size="23.55" text-anchor="middle">Rotterdam</text>
<clipPath id="clipR3"><rect x="888.7" y="544.4" width="712.8" height="183.8"/></clipPath>
<rect x="888.7" y="544.4" width="712.8" height="183.8" fill="#f4f4f4"/>
<path d="M888.7 544.4V728.2M976.4 544.4V728.2M1065.5 544.4V728.2M1153.1 544.4V728.2M1242.2 544.4V728.2M1329.9 544.4V728.2M1419 544.4V728.2M1507.1 544.4V728.2M1596.2 544.4V728.2" stroke="#cbcbcb" stroke-width="1.2" fill="none"/>
<path d="M888.7 728.2H1601.5M888.7 666.9H1601.5M888.7 605.7H1601.5M888.7 544.4H1601.5" stroke="#bababa" stroke-width="1.2" fill="none"/>
<g clip-path="url(#clipR3)">
<path d="M889.7 671.9L903.9 672.8L908.6 674.2L939.4 674.2L952.4 675.2M977.2 655.1L991.4 654.6L1026.8 653.9L1031.5 653.0L1041.0 652.3L1048.1 649.9L1055.2 647.5L1062.3 645.2L1069.4 642.1L1076.4 639.3L1083.5 636.4L1090.6 633.4L1097.7 630.3L1104.8 627.4L1111.9 624.6L1121.4 622.7L1128.4 621.5L1135.5 622.3L1140.3 623.2L1145.0 621.5L1154.4 621.5L1166.3 621.5L1171.0 619.2L1178.1 616.8L1185.2 614.5L1192.3 610.9L1199.3 608.5L1206.4 604.3L1211.2 601.0L1215.9 598.6L1223.0 596.7L1230.1 595.5L1245.0 595.5M1240.0 595.5L1254.2 595.5L1258.9 597.2L1263.6 599.1L1273.1 601.9L1280.2 605.0L1287.2 608.5L1294.3 612.1L1301.4 615.1L1310.9 616.1L1329.8 616.1L1334.5 619.1L1346.3 619.1L1372.3 619.1L1381.7 616.8L1405.4 616.8L1414.8 619.1L1419.5 620.3L1421.9 616.8L1452.6 616.8L1488.1 616.8L1494.0 619.1L1499.9 616.1L1514.0 616.1L1600.7 724.7" stroke="#d62728" stroke-width="3.0" stroke-linecap="round" stroke-linejoin="round" fill="none"/>
<path d="M889.7 700.2L906.3 700.2L911.0 701.4L922.8 701.4L927.5 702.6L953.5 702.6M978.4 692.4L993.7 692.4M998.4 691.3L1012.6 690.8M1016.2 690.1L1026.8 690.1L1038.6 690.8L1045.7 689.4L1052.8 687.7L1059.9 685.4L1067.0 683.0L1074.1 679.9L1081.2 677.1L1088.3 675.2L1097.7 673.5L1107.2 671.2L1114.3 668.8L1121.4 665.7L1126.1 662.9L1130.8 661.7L1135.5 661.7L1141.4 662.4M1147.3 662.4L1154.4 663.4L1161.5 664.8L1166.3 664.3L1173.3 662.4L1180.4 660.1L1187.5 657.0L1194.6 653.4L1201.7 649.9L1208.8 646.4L1215.9 642.8L1223.0 639.3L1230.1 635.7M1234.8 633.4L1239.5 632.6L1245.0 632.2M1240.0 631.7L1254.2 631.0L1263.6 633.3L1273.1 636.9L1282.5 639.2L1287.2 641.6L1296.7 646.3L1306.1 650.6L1315.6 654.6L1320.3 655.3L1329.8 655.3L1339.2 653.9L1358.1 653.9L1372.3 653.4L1381.7 652.2L1400.6 652.2L1410.1 653.9L1429.0 654.6L1447.9 655.3L1462.1 656.2L1476.2 656.2L1488.1 656.9L1499.9 656.9L1509.3 656.2L1515.2 656.2L1600.7 724.7" stroke="#ff7f0e" stroke-width="3.0" stroke-linecap="round" stroke-linejoin="round" fill="none"/>
<path d="M901.1 706.6h0.01M910.5 703.1h0.01M920.5 697.2L924.0 697.2M929.9 693.6h0.01M944.1 687.7L948.8 686.5L953.5 686.1L959.5 682.3L964.2 684.2L968.9 685.4M978.4 683.0L981.9 685.4L986.6 687.7M993.7 687.7L998.4 686.5L1003.2 687.7L1007.9 687.0L1012.6 688.9L1017.4 690.8L1022.1 692.4L1026.8 691.3L1031.5 691.3L1036.3 689.4L1041.0 688.4L1045.7 688.9M1057.5 684.2L1059.9 684.2M1063.4 681.8h0.01M1075.3 671.9h0.01M1082.4 667.2L1085.9 667.6L1090.6 665.7L1095.4 666.4L1100.1 665.3M1104.8 663.4L1108.4 662.9L1111.9 661.7L1116.6 659.4L1120.2 660.5L1123.7 662.9L1128.4 665.3L1133.2 667.6L1137.9 668.8L1142.6 670.0L1147.3 671.2L1152.1 674.7L1156.8 679.4L1161.5 683.0L1166.3 686.5L1171.0 690.1L1175.7 690.1L1180.4 693.6L1185.2 696.0L1189.9 697.9L1197.0 697.9L1201.7 699.5L1206.4 700.2M1213.5 697.9h0.01M1220.6 694.8L1223.0 696.0M1231.3 694.8L1238.3 692.4M1251.8 681.3h0.01M1261.3 677.5L1263.6 678.9M1269.5 674.7h0.01M1280.2 668.8L1284.9 668.8L1289.6 669.5L1294.3 671.1L1299.1 671.1M1303.8 669.5L1308.5 674.2L1310.9 673.5M1315.6 671.1L1320.3 669.5L1325.0 673.5L1329.8 676.5L1334.5 677.5L1339.2 678.9L1343.9 679.4L1348.7 680.6L1353.4 681.7L1358.1 684.1L1362.8 685.3L1367.6 686.0L1372.3 682.9L1377.0 680.6M1384.1 675.8L1388.8 674.2L1393.6 672.8M1398.3 670.4L1403.0 669.5L1407.7 671.1M1416.0 666.4L1419.5 667.6M1426.6 666.4L1431.4 666.4M1436.1 663.3L1440.8 660.5L1445.5 658.1L1449.1 658.1L1452.6 655.8L1457.3 655.8L1462.1 656.9L1466.8 659.3L1471.5 661.7L1476.2 665.2L1481.0 667.6L1485.7 668.8L1490.4 669.9L1495.1 672.3L1499.9 674.7L1504.6 676.5L1509.3 677.0L1514.0 675.8L1518.8 679.4L1523.5 684.1L1528.2 688.8L1532.9 693.6L1537.7 695.9L1542.4 700.6L1547.1 705.4L1551.8 707.7L1556.6 709.6L1561.3 712.0M1568.4 714.8L1573.1 717.2L1577.8 719.1M1587.3 720.7L1592.0 723.1" stroke="#1f77b4" stroke-width="3.0" stroke-linecap="round" stroke-linejoin="round" fill="none" stroke-dasharray="4 6"/>
<path d="M889.7 662.9L899.2 661.0L908.6 660.5L918.1 659.4L927.5 659.4L937.0 657.7L944.1 655.8L953.5 655.3M959.5 649.9h0.01M963.0 648.2h0.01M968.9 644.0h0.01M977.2 636.9L984.3 639.3L991.4 640.4L998.4 638.8L1007.9 640.4L1017.4 639.3L1026.8 640.4L1038.6 639.3L1050.4 640.4L1057.5 640.4L1062.3 643.5L1069.4 640.4L1076.4 637.4L1085.9 638.1L1097.7 638.8L1107.2 639.3L1116.6 638.8L1126.1 639.3L1135.5 640.4L1140.3 642.1L1145.0 641.2L1152.1 641.6L1156.8 644.0L1163.9 646.4L1173.3 646.4L1182.8 644.5L1197.0 644.0L1206.4 645.2L1211.2 643.5L1220.6 642.8L1230.1 642.8L1239.5 641.2L1245.0 638.1M1240.0 640.4L1249.4 638.0L1256.5 635.7L1263.6 638.0L1273.1 636.4L1282.5 635.0L1292.0 635.7L1301.4 634.5L1310.9 635.0L1320.3 632.1L1327.4 632.1L1334.5 634.5L1343.9 634.0L1353.4 634.0L1362.8 634.5L1367.6 635.7L1372.3 633.3L1381.7 631.0L1391.2 631.0L1405.4 631.0L1414.8 629.8L1424.3 630.2L1433.7 629.3L1443.2 627.9L1452.6 627.9L1466.8 627.4L1476.2 628.6L1488.1 629.8L1499.9 633.3L1507.0 635.7L1515.2 635.7L1600.7 724.7" stroke="#7f7f7f" stroke-width="3.0" stroke-linecap="round" stroke-linejoin="round" fill="none"/>
</g>
<rect x="1559.4" y="544.4" width="42.1" height="183.8" fill="#ff7f0e" fill-opacity="0.4"/>
<path d="M888.7 544.4V728.2" stroke="#8a8a8a" stroke-width="1.4" fill="none"/>
<path d="M1601.5 544.4V728.2" stroke="#8a8a8a" stroke-width="1.2" fill="none"/>
<path d="M888.1 728.2H1602.1" stroke="#111" stroke-width="1.3" fill="none"/>
<path d="M888.1 544.4H1602.1" stroke="#000" stroke-width="1.4" fill="none"/>
<path d="M888.7 728.2v2.8M903.7 728.2v2.8M917.3 728.2v2.8M932.3 728.2v2.8M946.8 728.2v2.8M961.8 728.2v2.8M976.4 728.2v2.8M991.4 728.2v2.8M1006.4 728.2v2.8M1020.9 728.2v2.8M1035.9 728.2v2.8M1050.4 728.2v2.8M1065.5 728.2v2.8M1080.5 728.2v2.8M1094 728.2v2.8M1109 728.2v2.8M1123.6 728.2v2.8M1138.6 728.2v2.8M1153.1 728.2v2.8M1168.1 728.2v2.8M1183.1 728.2v2.8M1197.7 728.2v2.8M1212.7 728.2v2.8M1227.2 728.2v2.8M1242.2 728.2v2.8M1257.2 728.2v2.8M1270.8 728.2v2.8M1285.8 728.2v2.8M1300.3 728.2v2.8M1315.3 728.2v2.8M1329.9 728.2v2.8M1344.9 728.2v2.8M1359.9 728.2v2.8M1374.4 728.2v2.8M1389.4 728.2v2.8M1404 728.2v2.8M1419 728.2v2.8M1434 728.2v2.8M1448 728.2v2.8M1463 728.2v2.8M1477.6 728.2v2.8M1492.6 728.2v2.8M1507.1 728.2v2.8M1522.1 728.2v2.8M1537.1 728.2v2.8M1551.7 728.2v2.8M1566.7 728.2v2.8M1581.2 728.2v2.8M1596.2 728.2v2.8" stroke="#333" stroke-width="0.9" fill="none"/>
<path d="M888.7 728.2v4.6M976.4 728.2v4.6M1065.5 728.2v4.6M1153.1 728.2v4.6M1242.2 728.2v4.6M1329.9 728.2v4.6M1419 728.2v4.6M1507.1 728.2v4.6M1596.2 728.2v4.6M888.7 728.2h-4.6M888.7 666.9h-4.6M888.7 605.7h-4.6M888.7 544.4h-4.6" stroke="#000" stroke-width="1.1" fill="none"/>
<text x="880.3" y="735.3" font-size="19.3" text-anchor="end">0</text>
<text x="880.3" y="674" font-size="19.3" text-anchor="end">50</text>
<text x="880.3" y="612.8" font-size="19.3" text-anchor="end">100</text>
<text x="880.3" y="551.5" font-size="19.3" text-anchor="end">150</text>
<text x="887.4" y="749.7" font-size="19.3" text-anchor="end" transform="rotate(-30 887.4 749.7)">2017-01</text>
<text x="975.1" y="749.7" font-size="19.3" text-anchor="end" transform="rotate(-30 975.1 749.7)">2017-07</text>
<text x="1064.2" y="749.7" font-size="19.3" text-anchor="end" transform="rotate(-30 1064.2 749.7)">2018-01</text>
<text x="1151.8" y="749.7" font-size="19.3" text-anchor="end" transform="rotate(-30 1151.8 749.7)">2018-07</text>
<text x="1240.9" y="749.7" font-size="19.3" text-anchor="end" transform="rotate(-30 1240.9 749.7)">2019-01</text>
<text x="1328.6" y="749.7" font-size="19.3" text-anchor="end" transform="rotate(-30 1328.6 749.7)">2019-07</text>
<text x="1417.7" y="749.7" font-size="19.3" text-anchor="end" transform="rotate(-30 1417.7 749.7)">2020-01</text>
<text x="1505.8" y="749.7" font-size="19.3" text-anchor="end" transform="rotate(-30 1505.8 749.7)">2020-07</text>
<text x="1594.9" y="749.7" font-size="19.3" text-anchor="end" transform="rotate(-30 1594.9 749.7)">2021-01</text>
<text x="1245.1" y="536.6" font-size="23.55" text-anchor="middle">Liège</text>
<rect x="119.1" y="99.7" width="655.8" height="62.3" rx="4" ry="4" fill="#fff" fill-opacity="0.8" stroke="#cccccc" stroke-opacity="0.8" stroke-width="1.2"/>
<circle cx="146.3" cy="116.6" r="4.85" fill="#d62728"/>
<text x="181.6" y="122.4" font-size="19.65">ERS-1/2 (ascending)</text>
<circle cx="146.3" cy="145.2" r="4.85" fill="#ff7f0e"/>
<text x="181.6" y="150.6" font-size="19.65">ERS-1/2 (descending)</text>
<circle cx="450.7" cy="116.6" r="4.85" fill="#1f77b4"/>
<text x="485.8" y="122.4" font-size="19.65">Landsat 5 TM</text>
<circle cx="450.7" cy="145.2" r="4.85" fill="#7f7f7f"/>
<text x="485.8" y="150.6" font-size="19.65">Sum of observations (<tspan font-style="italic">δ</tspan><tspan dx="-2.6"> =</tspan><tspan dx="-2.6"> 1</tspan><tspan font-style="italic">s</tspan>)</text>
<rect x="911.9" y="112.6" width="666.1" height="61.6" rx="4" ry="4" fill="#fff" fill-opacity="0.8" stroke="#cccccc" stroke-opacity="0.8" stroke-width="1.2"/>
<circle cx="938.5" cy="129.2" r="4.85" fill="#d62728"/>
<text x="973.1" y="135.2" font-size="19.25">Sentinel 1 (ascending)</text>
<circle cx="938.5" cy="157.6" r="4.85" fill="#ff7f0e"/>
<text x="973.1" y="163.3" font-size="19.25">Sentinel 1 (descending)</text>
<circle cx="1258.1" cy="129.2" r="4.85" fill="#1f77b4"/>
<text x="1292.4" y="135.2" font-size="19.25">Sentinel 2</text>
<circle cx="1258.1" cy="157.6" r="4.85" fill="#7f7f7f"/>
<text x="1292.4" y="163.3" font-size="19.25">Sum of observations (<tspan font-style="italic">δ</tspan><tspan dx="-1.3"> =</tspan><tspan dx="-1.3"> 2</tspan><tspan font-style="italic">d</tspan>)</text>
</svg></body></html>
